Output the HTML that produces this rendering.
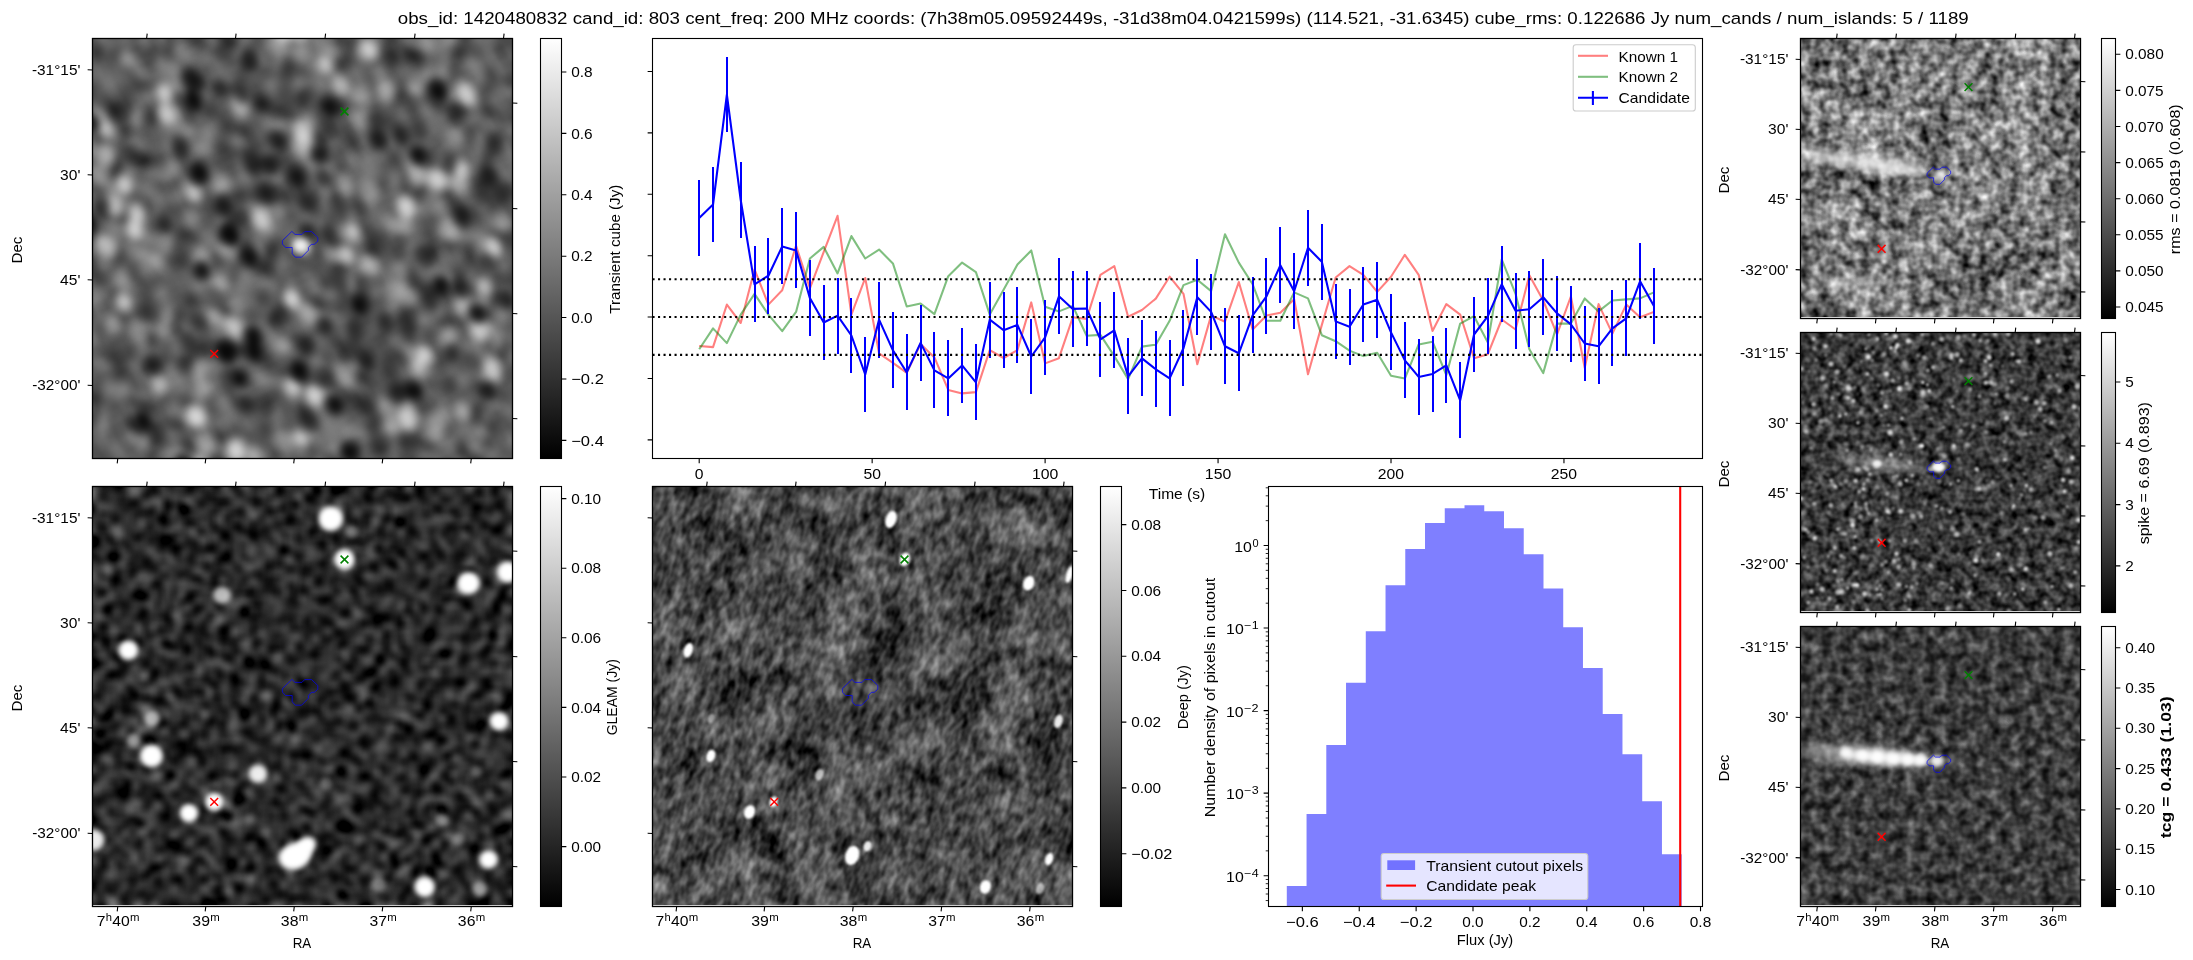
<!DOCTYPE html>
<html><head><meta charset="utf-8"><title>candidate</title>
<style>html,body{margin:0;padding:0;background:#fff;overflow:hidden}svg{display:block}text{font-family:"Liberation Sans",sans-serif;white-space:pre}</style>
</head><body>
<svg width="2193" height="960" viewBox="0 0 2193 960">
<defs>
<linearGradient id="cb" x1="0" y1="0" x2="0" y2="1"><stop offset="0" stop-color="#fff"/><stop offset="1" stop-color="#000"/></linearGradient>
<filter id="nA" x="0" y="0" width="1" height="1" color-interpolation-filters="sRGB"><feTurbulence type="fractalNoise" baseFrequency="0.20" numOctaves="1" seed="3"/><feColorMatrix type="matrix" values="8 0 0 0 -3.5 8 0 0 0 -3.5 8 0 0 0 -3.5 0 0 0 0 1"/><feGaussianBlur stdDeviation="6.8 5.6"/><feColorMatrix type="matrix" values="1.6 0 0 0 -0.4350 1.6 0 0 0 -0.4350 1.6 0 0 0 -0.4350 0 0 0 0 1"/></filter>
<filter id="nB" x="0" y="0" width="1" height="1" color-interpolation-filters="sRGB"><feTurbulence type="fractalNoise" baseFrequency="0.25" numOctaves="1" seed="5"/><feColorMatrix type="matrix" values="8 0 0 0 -3.5 8 0 0 0 -3.5 8 0 0 0 -3.5 0 0 0 0 1"/><feGaussianBlur stdDeviation="4.5"/><feColorMatrix type="matrix" values="1.7 0 0 0 -0.6850 1.7 0 0 0 -0.6850 1.7 0 0 0 -0.6850 0 0 0 0 1"/></filter>
<filter id="nR1" x="0" y="0" width="1" height="1" color-interpolation-filters="sRGB"><feTurbulence type="fractalNoise" baseFrequency="0.10" numOctaves="2" seed="3"/><feColorMatrix type="matrix" values="1.15 0 0 0 -0.1000 1.15 0 0 0 -0.1000 1.15 0 0 0 -0.1000 0 0 0 0 1" result="a"/><feTurbulence type="fractalNoise" baseFrequency="0.02" numOctaves="2" seed="44"/><feColorMatrix type="matrix" values="0.5 0 0 0 0.2500 0.5 0 0 0 0.2500 0.5 0 0 0 0.2500 0 0 0 0 1" result="b"/><feComposite in="a" in2="b" operator="arithmetic" k1="0" k2="1" k3="1" k4="-0.5"/><feColorMatrix type="matrix" values="1 0 0 0 0 0 1 0 0 0 0 0 1 0 0 0 0 0 0 1"/></filter>
<filter id="nC" x="0" y="0" width="1" height="1" color-interpolation-filters="sRGB"><feTurbulence type="fractalNoise" baseFrequency="0.075 0.13" numOctaves="2" seed="9"/><feColorMatrix type="matrix" values="0.66 0 0 0 -0.0450 0.66 0 0 0 -0.0450 0.66 0 0 0 -0.0450 0 0 0 0 1" result="a"/><feTurbulence type="fractalNoise" baseFrequency="0.022" numOctaves="2" seed="31"/><feColorMatrix type="matrix" values="0.55 0 0 0 0.2250 0.55 0 0 0 0.2250 0.55 0 0 0 0.2250 0 0 0 0 1" result="b"/><feComposite in="a" in2="b" operator="arithmetic" k1="0" k2="1" k3="1" k4="-0.5"/><feColorMatrix type="matrix" values="1 0 0 0 0 0 1 0 0 0 0 0 1 0 0 0 0 0 0 1"/></filter>
<filter id="nR2" x="0" y="0" width="1" height="1" filterUnits="objectBoundingBox" color-interpolation-filters="sRGB"><feTurbulence type="fractalNoise" baseFrequency="0.11" numOctaves="2" seed="21" result="n"/><feColorMatrix type="matrix" values="0.7 0 0 0 -0.1350 0.7 0 0 0 -0.1350 0.7 0 0 0 -0.1350 0 0 0 0 1"/></filter>
<filter id="nR3" x="0" y="0" width="1" height="1" filterUnits="objectBoundingBox" color-interpolation-filters="sRGB"><feTurbulence type="fractalNoise" baseFrequency="0.095" numOctaves="2" seed="17" result="n"/><feColorMatrix type="matrix" values="0.72 0 0 0 -0.0250 0.72 0 0 0 -0.0250 0.72 0 0 0 -0.0250 0 0 0 0 1"/><feComponentTransfer><feFuncR type="gamma" exponent="1.3"/><feFuncG type="gamma" exponent="1.3"/><feFuncB type="gamma" exponent="1.3"/></feComponentTransfer></filter>
<filter id="bl1" x="-1" y="-1" width="3" height="3"><feGaussianBlur stdDeviation="1"/></filter>
<filter id="bl1_5" x="-1" y="-1" width="3" height="3"><feGaussianBlur stdDeviation="1.5"/></filter>
<filter id="bl2" x="-1" y="-1" width="3" height="3"><feGaussianBlur stdDeviation="2"/></filter>
<filter id="bl2_5" x="-1" y="-1" width="3" height="3"><feGaussianBlur stdDeviation="2.5"/></filter>
<filter id="bl3" x="-1" y="-1" width="3" height="3"><feGaussianBlur stdDeviation="3"/></filter>
<filter id="bl4" x="-1" y="-1" width="3" height="3"><feGaussianBlur stdDeviation="4"/></filter>
<filter id="bl5" x="-1" y="-1" width="3" height="3"><feGaussianBlur stdDeviation="5"/></filter>
<filter id="bl6" x="-1" y="-1" width="3" height="3"><feGaussianBlur stdDeviation="6"/></filter>
</defs>
<rect x="0" y="0" width="2193" height="960" fill="#fff"/>
<clipPath id="clipA"><rect x="92.5" y="38.5" width="420" height="420"/></clipPath>
<clipPath id="clipB"><rect x="92.5" y="486.5" width="420" height="420"/></clipPath>
<clipPath id="clipC"><rect x="652.5" y="486.5" width="420" height="420"/></clipPath>
<clipPath id="clipR1"><rect x="1800.5" y="38.5" width="280" height="280"/></clipPath>
<clipPath id="clipR2"><rect x="1800.5" y="332.5" width="280" height="280"/></clipPath>
<clipPath id="clipR3"><rect x="1800.5" y="626.5" width="280" height="280"/></clipPath>
<g clip-path="url(#clipA)">
<rect x="92.5" y="38.5" width="420.0" height="420.0" fill="#555"/>
<g transform="rotate(62 302.5 248.5)"><rect x="-12.5" y="-66.5" width="630.0" height="630.0" filter="url(#nA)"/></g>
<g transform="rotate(-25 302.5 248.5)"><g fill="#fff" filter="url(#bl5)"><ellipse cx="119" cy="70" rx="9.3" ry="11.7" opacity="0.64"/><ellipse cx="141" cy="66" rx="8.0" ry="10.0" opacity="0.43"/><ellipse cx="134" cy="79" rx="9.5" ry="11.8" opacity="0.49"/><ellipse cx="92" cy="146" rx="7.9" ry="9.9" opacity="0.42"/><ellipse cx="175" cy="57" rx="8.0" ry="10.0" opacity="0.64"/><ellipse cx="165" cy="79" rx="9.2" ry="11.5" opacity="0.53"/><ellipse cx="149" cy="96" rx="9.2" ry="11.5" opacity="0.41"/><ellipse cx="198" cy="82" rx="9.1" ry="11.4" opacity="0.21"/><ellipse cx="168" cy="116" rx="8.3" ry="10.4" opacity="0.68"/><ellipse cx="149" cy="132" rx="8.3" ry="10.4" opacity="0.62"/><ellipse cx="140" cy="152" rx="8.1" ry="10.2" opacity="0.18"/><ellipse cx="125" cy="164" rx="10.0" ry="12.5" opacity="0.53"/><ellipse cx="94" cy="202" rx="9.4" ry="11.8" opacity="0.14"/><ellipse cx="256" cy="40" rx="10.0" ry="12.5" opacity="0.21"/><ellipse cx="243" cy="49" rx="7.5" ry="9.4" opacity="0.70"/><ellipse cx="236" cy="69" rx="9.3" ry="11.7" opacity="0.70"/><ellipse cx="193" cy="123" rx="9.2" ry="11.5" opacity="0.08"/><ellipse cx="167" cy="147" rx="8.1" ry="10.1" opacity="0.70"/><ellipse cx="158" cy="161" rx="8.3" ry="10.4" opacity="0.70"/><ellipse cx="148" cy="180" rx="8.7" ry="10.9" opacity="0.18"/><ellipse cx="125" cy="202" rx="7.9" ry="9.8" opacity="0.30"/><ellipse cx="118" cy="221" rx="7.8" ry="9.7" opacity="0.63"/><ellipse cx="99" cy="240" rx="8.0" ry="10.0" opacity="0.37"/><ellipse cx="288" cy="30" rx="8.6" ry="10.8" opacity="0.18"/><ellipse cx="245" cy="90" rx="8.4" ry="10.5" opacity="0.11"/><ellipse cx="215" cy="121" rx="8.9" ry="11.2" opacity="0.30"/><ellipse cx="179" cy="185" rx="9.5" ry="11.9" opacity="0.14"/><ellipse cx="164" cy="197" rx="7.6" ry="9.5" opacity="0.46"/><ellipse cx="118" cy="255" rx="9.9" ry="12.4" opacity="0.27"/><ellipse cx="264" cy="107" rx="8.0" ry="10.0" opacity="0.30"/><ellipse cx="249" cy="116" rx="8.5" ry="10.7" opacity="0.24"/><ellipse cx="227" cy="153" rx="7.6" ry="9.5" opacity="0.67"/><ellipse cx="214" cy="174" rx="8.1" ry="10.1" opacity="0.25"/><ellipse cx="154" cy="247" rx="8.9" ry="11.1" opacity="0.08"/><ellipse cx="114" cy="312" rx="8.2" ry="10.3" opacity="0.52"/><ellipse cx="339" cy="39" rx="9.0" ry="11.2" opacity="0.09"/><ellipse cx="306" cy="92" rx="8.5" ry="10.6" opacity="0.44"/><ellipse cx="254" cy="152" rx="9.9" ry="12.4" opacity="0.21"/><ellipse cx="210" cy="211" rx="7.7" ry="9.7" opacity="0.46"/><ellipse cx="133" cy="321" rx="9.9" ry="12.4" opacity="0.22"/><ellipse cx="89" cy="378" rx="9.3" ry="11.6" opacity="0.09"/><ellipse cx="376" cy="44" rx="9.2" ry="11.5" opacity="0.70"/><ellipse cx="363" cy="56" rx="9.4" ry="11.7" opacity="0.31"/><ellipse cx="236" cy="222" rx="9.7" ry="12.1" opacity="0.35"/><ellipse cx="214" cy="245" rx="7.9" ry="9.9" opacity="0.43"/><ellipse cx="195" cy="275" rx="8.3" ry="10.3" opacity="0.43"/><ellipse cx="157" cy="315" rx="8.5" ry="10.6" opacity="0.45"/><ellipse cx="151" cy="332" rx="8.6" ry="10.8" opacity="0.29"/><ellipse cx="135" cy="355" rx="9.4" ry="11.8" opacity="0.70"/><ellipse cx="391" cy="50" rx="8.9" ry="11.1" opacity="0.47"/><ellipse cx="385" cy="66" rx="9.6" ry="12.0" opacity="0.18"/><ellipse cx="334" cy="131" rx="7.6" ry="9.5" opacity="0.21"/><ellipse cx="277" cy="205" rx="9.9" ry="12.4" opacity="0.70"/><ellipse cx="236" cy="255" rx="8.0" ry="10.0" opacity="0.20"/><ellipse cx="221" cy="273" rx="8.8" ry="11.0" opacity="0.26"/><ellipse cx="207" cy="290" rx="9.3" ry="11.6" opacity="0.70"/><ellipse cx="167" cy="352" rx="7.5" ry="9.4" opacity="0.29"/><ellipse cx="154" cy="370" rx="9.1" ry="11.3" opacity="0.12"/><ellipse cx="132" cy="384" rx="10.0" ry="12.5" opacity="0.34"/><ellipse cx="118" cy="399" rx="7.9" ry="9.9" opacity="0.56"/><ellipse cx="105" cy="428" rx="7.8" ry="9.7" opacity="0.17"/><ellipse cx="445" cy="33" rx="9.9" ry="12.4" opacity="0.20"/><ellipse cx="411" cy="73" rx="9.8" ry="12.3" opacity="0.13"/><ellipse cx="401" cy="91" rx="8.2" ry="10.2" opacity="0.67"/><ellipse cx="352" cy="142" rx="9.7" ry="12.2" opacity="0.64"/><ellipse cx="347" cy="154" rx="9.6" ry="12.0" opacity="0.50"/><ellipse cx="157" cy="404" rx="9.3" ry="11.6" opacity="0.70"/><ellipse cx="124" cy="442" rx="8.6" ry="10.8" opacity="0.47"/><ellipse cx="113" cy="453" rx="8.3" ry="10.3" opacity="0.70"/><ellipse cx="442" cy="61" rx="8.5" ry="10.7" opacity="0.70"/><ellipse cx="408" cy="116" rx="9.2" ry="11.5" opacity="0.51"/><ellipse cx="306" cy="246" rx="8.4" ry="10.5" opacity="0.56"/><ellipse cx="272" cy="289" rx="8.1" ry="10.1" opacity="0.70"/><ellipse cx="244" cy="327" rx="7.6" ry="9.5" opacity="0.29"/><ellipse cx="211" cy="359" rx="9.3" ry="11.6" opacity="0.11"/><ellipse cx="171" cy="415" rx="7.7" ry="9.6" opacity="0.54"/><ellipse cx="148" cy="458" rx="9.9" ry="12.3" opacity="0.14"/><ellipse cx="491" cy="45" rx="8.1" ry="10.2" opacity="0.63"/><ellipse cx="461" cy="75" rx="7.9" ry="9.8" opacity="0.70"/><ellipse cx="447" cy="97" rx="9.0" ry="11.2" opacity="0.70"/><ellipse cx="422" cy="132" rx="9.7" ry="12.2" opacity="0.28"/><ellipse cx="410" cy="156" rx="9.9" ry="12.3" opacity="0.35"/><ellipse cx="369" cy="206" rx="8.8" ry="11.0" opacity="0.37"/><ellipse cx="325" cy="268" rx="7.7" ry="9.6" opacity="0.29"/><ellipse cx="280" cy="313" rx="9.4" ry="11.7" opacity="0.44"/><ellipse cx="236" cy="370" rx="8.1" ry="10.1" opacity="0.70"/><ellipse cx="204" cy="417" rx="9.3" ry="11.7" opacity="0.27"/><ellipse cx="172" cy="445" rx="7.6" ry="9.5" opacity="0.08"/><ellipse cx="158" cy="466" rx="8.6" ry="10.7" opacity="0.35"/><ellipse cx="517" cy="59" rx="8.0" ry="10.0" opacity="0.51"/><ellipse cx="501" cy="77" rx="9.5" ry="11.8" opacity="0.34"/><ellipse cx="444" cy="142" rx="9.3" ry="11.6" opacity="0.48"/><ellipse cx="399" cy="200" rx="9.4" ry="11.8" opacity="0.18"/><ellipse cx="387" cy="224" rx="9.9" ry="12.4" opacity="0.28"/><ellipse cx="355" cy="254" rx="7.6" ry="9.5" opacity="0.67"/><ellipse cx="340" cy="273" rx="8.7" ry="10.8" opacity="0.70"/><ellipse cx="251" cy="388" rx="9.0" ry="11.3" opacity="0.70"/><ellipse cx="221" cy="420" rx="7.8" ry="9.8" opacity="0.70"/><ellipse cx="505" cy="105" rx="8.8" ry="11.1" opacity="0.13"/><ellipse cx="478" cy="148" rx="9.8" ry="12.3" opacity="0.18"/><ellipse cx="396" cy="240" rx="8.1" ry="10.1" opacity="0.21"/><ellipse cx="356" cy="293" rx="9.7" ry="12.2" opacity="0.41"/><ellipse cx="288" cy="380" rx="9.8" ry="12.2" opacity="0.33"/><ellipse cx="252" cy="422" rx="9.6" ry="11.9" opacity="0.30"/><ellipse cx="246" cy="438" rx="9.5" ry="11.9" opacity="0.13"/><ellipse cx="224" cy="463" rx="10.0" ry="12.5" opacity="0.70"/><ellipse cx="517" cy="118" rx="8.3" ry="10.4" opacity="0.26"/><ellipse cx="507" cy="136" rx="8.7" ry="10.9" opacity="0.15"/><ellipse cx="474" cy="178" rx="7.9" ry="9.8" opacity="0.10"/><ellipse cx="437" cy="231" rx="8.9" ry="11.2" opacity="0.53"/><ellipse cx="414" cy="255" rx="9.3" ry="11.7" opacity="0.70"/><ellipse cx="404" cy="271" rx="8.6" ry="10.7" opacity="0.41"/><ellipse cx="379" cy="312" rx="9.6" ry="12.0" opacity="0.27"/><ellipse cx="366" cy="326" rx="9.2" ry="11.5" opacity="0.35"/><ellipse cx="516" cy="178" rx="9.8" ry="12.3" opacity="0.70"/><ellipse cx="485" cy="213" rx="9.6" ry="11.9" opacity="0.25"/><ellipse cx="454" cy="243" rx="9.6" ry="12.1" opacity="0.70"/><ellipse cx="438" cy="263" rx="9.8" ry="12.3" opacity="0.17"/><ellipse cx="378" cy="335" rx="9.3" ry="11.6" opacity="0.34"/><ellipse cx="311" cy="431" rx="9.7" ry="12.1" opacity="0.27"/><ellipse cx="480" cy="243" rx="8.0" ry="10.0" opacity="0.70"/><ellipse cx="472" cy="257" rx="9.2" ry="11.5" opacity="0.36"/><ellipse cx="445" cy="292" rx="9.9" ry="12.4" opacity="0.46"/><ellipse cx="426" cy="318" rx="7.5" ry="9.4" opacity="0.15"/><ellipse cx="368" cy="396" rx="8.5" ry="10.6" opacity="0.70"/><ellipse cx="358" cy="404" rx="7.8" ry="9.7" opacity="0.63"/><ellipse cx="325" cy="448" rx="10.0" ry="12.5" opacity="0.70"/><ellipse cx="456" cy="315" rx="8.3" ry="10.4" opacity="0.07"/><ellipse cx="423" cy="368" rx="7.5" ry="9.4" opacity="0.54"/><ellipse cx="398" cy="390" rx="7.9" ry="9.9" opacity="0.43"/><ellipse cx="373" cy="426" rx="8.4" ry="10.5" opacity="0.14"/><ellipse cx="350" cy="464" rx="9.9" ry="12.4" opacity="0.41"/><ellipse cx="495" cy="306" rx="9.8" ry="12.2" opacity="0.28"/><ellipse cx="476" cy="328" rx="8.9" ry="11.2" opacity="0.70"/><ellipse cx="451" cy="360" rx="8.0" ry="10.0" opacity="0.59"/><ellipse cx="428" cy="398" rx="9.6" ry="12.1" opacity="0.70"/><ellipse cx="396" cy="436" rx="9.4" ry="11.8" opacity="0.09"/><ellipse cx="378" cy="463" rx="8.1" ry="10.1" opacity="0.42"/><ellipse cx="521" cy="310" rx="9.9" ry="12.4" opacity="0.15"/><ellipse cx="515" cy="320" rx="9.6" ry="12.0" opacity="0.16"/><ellipse cx="449" cy="395" rx="9.1" ry="11.3" opacity="0.16"/><ellipse cx="436" cy="412" rx="8.2" ry="10.3" opacity="0.07"/><ellipse cx="423" cy="439" rx="10.0" ry="12.5" opacity="0.70"/><ellipse cx="470" cy="409" rx="8.7" ry="10.8" opacity="0.20"/><ellipse cx="516" cy="389" rx="8.1" ry="10.1" opacity="0.26"/><ellipse cx="492" cy="422" rx="8.1" ry="10.2" opacity="0.21"/><ellipse cx="466" cy="458" rx="9.0" ry="11.2" opacity="0.44"/><ellipse cx="501" cy="458" rx="7.8" ry="9.8" opacity="0.70"/></g><g fill="#000" filter="url(#bl5)"><ellipse cx="110" cy="33" rx="8.5" ry="10.6" opacity="0.58"/><ellipse cx="90" cy="52" rx="9.6" ry="12.0" opacity="0.12"/><ellipse cx="145" cy="29" rx="9.4" ry="11.7" opacity="0.20"/><ellipse cx="132" cy="50" rx="7.7" ry="9.7" opacity="0.56"/><ellipse cx="103" cy="91" rx="8.6" ry="10.8" opacity="0.39"/><ellipse cx="163" cy="44" rx="7.7" ry="9.7" opacity="0.90"/><ellipse cx="116" cy="101" rx="9.2" ry="11.4" opacity="0.90"/><ellipse cx="103" cy="121" rx="9.2" ry="11.5" opacity="0.34"/><ellipse cx="204" cy="31" rx="8.0" ry="10.0" opacity="0.21"/><ellipse cx="193" cy="48" rx="9.0" ry="11.2" opacity="0.41"/><ellipse cx="140" cy="124" rx="7.5" ry="9.4" opacity="0.53"/><ellipse cx="119" cy="133" rx="9.5" ry="11.9" opacity="0.90"/><ellipse cx="95" cy="173" rx="9.6" ry="12.0" opacity="0.35"/><ellipse cx="216" cy="63" rx="8.0" ry="10.0" opacity="0.18"/><ellipse cx="188" cy="92" rx="9.1" ry="11.4" opacity="0.46"/><ellipse cx="106" cy="190" rx="9.3" ry="11.6" opacity="0.35"/><ellipse cx="211" cy="88" rx="8.3" ry="10.4" opacity="0.11"/><ellipse cx="207" cy="113" rx="9.7" ry="12.1" opacity="0.24"/><ellipse cx="92" cy="263" rx="9.3" ry="11.7" opacity="0.27"/><ellipse cx="273" cy="49" rx="10.0" ry="12.5" opacity="0.69"/><ellipse cx="266" cy="68" rx="9.4" ry="11.7" opacity="0.90"/><ellipse cx="235" cy="103" rx="8.5" ry="10.6" opacity="0.38"/><ellipse cx="201" cy="139" rx="8.3" ry="10.4" opacity="0.10"/><ellipse cx="188" cy="166" rx="7.7" ry="9.7" opacity="0.47"/><ellipse cx="147" cy="216" rx="8.5" ry="10.6" opacity="0.12"/><ellipse cx="135" cy="239" rx="8.4" ry="10.5" opacity="0.49"/><ellipse cx="107" cy="271" rx="9.2" ry="11.5" opacity="0.18"/><ellipse cx="325" cy="30" rx="7.6" ry="9.5" opacity="0.59"/><ellipse cx="316" cy="41" rx="9.8" ry="12.3" opacity="0.31"/><ellipse cx="297" cy="69" rx="8.7" ry="10.9" opacity="0.22"/><ellipse cx="284" cy="86" rx="9.6" ry="12.0" opacity="0.11"/><ellipse cx="241" cy="136" rx="9.8" ry="12.2" opacity="0.90"/><ellipse cx="196" cy="193" rx="9.8" ry="12.2" opacity="0.32"/><ellipse cx="179" cy="217" rx="7.9" ry="9.8" opacity="0.13"/><ellipse cx="170" cy="237" rx="8.4" ry="10.6" opacity="0.12"/><ellipse cx="118" cy="291" rx="7.8" ry="9.8" opacity="0.63"/><ellipse cx="92" cy="327" rx="8.7" ry="10.9" opacity="0.27"/><ellipse cx="85" cy="338" rx="9.0" ry="11.2" opacity="0.90"/><ellipse cx="335" cy="55" rx="9.5" ry="11.9" opacity="0.68"/><ellipse cx="313" cy="83" rx="8.7" ry="10.8" opacity="0.62"/><ellipse cx="281" cy="113" rx="9.3" ry="11.7" opacity="0.23"/><ellipse cx="274" cy="131" rx="8.0" ry="10.0" opacity="0.18"/><ellipse cx="249" cy="176" rx="9.4" ry="11.8" opacity="0.70"/><ellipse cx="202" cy="226" rx="7.9" ry="9.9" opacity="0.87"/><ellipse cx="176" cy="270" rx="9.4" ry="11.7" opacity="0.32"/><ellipse cx="160" cy="287" rx="9.6" ry="12.0" opacity="0.54"/><ellipse cx="145" cy="306" rx="8.2" ry="10.3" opacity="0.35"/><ellipse cx="116" cy="336" rx="9.6" ry="12.0" opacity="0.10"/><ellipse cx="95" cy="354" rx="8.7" ry="10.9" opacity="0.43"/><ellipse cx="329" cy="99" rx="9.7" ry="12.2" opacity="0.16"/><ellipse cx="315" cy="114" rx="8.5" ry="10.6" opacity="0.16"/><ellipse cx="293" cy="147" rx="9.9" ry="12.4" opacity="0.60"/><ellipse cx="278" cy="172" rx="9.2" ry="11.5" opacity="0.17"/><ellipse cx="260" cy="192" rx="8.2" ry="10.2" opacity="0.23"/><ellipse cx="243" cy="206" rx="9.6" ry="12.0" opacity="0.89"/><ellipse cx="201" cy="255" rx="9.9" ry="12.4" opacity="0.17"/><ellipse cx="180" cy="294" rx="7.8" ry="9.7" opacity="0.28"/><ellipse cx="104" cy="393" rx="8.2" ry="10.2" opacity="0.68"/><ellipse cx="86" cy="414" rx="9.1" ry="11.3" opacity="0.49"/><ellipse cx="408" cy="28" rx="9.1" ry="11.3" opacity="0.09"/><ellipse cx="362" cy="87" rx="8.3" ry="10.4" opacity="0.38"/><ellipse cx="353" cy="105" rx="9.5" ry="11.9" opacity="0.40"/><ellipse cx="327" cy="140" rx="8.8" ry="11.0" opacity="0.69"/><ellipse cx="308" cy="159" rx="9.0" ry="11.2" opacity="0.66"/><ellipse cx="293" cy="183" rx="9.0" ry="11.2" opacity="0.70"/><ellipse cx="251" cy="234" rx="9.3" ry="11.6" opacity="0.87"/><ellipse cx="189" cy="309" rx="9.9" ry="12.4" opacity="0.87"/><ellipse cx="182" cy="336" rx="9.8" ry="12.2" opacity="0.34"/><ellipse cx="87" cy="438" rx="9.4" ry="11.8" opacity="0.62"/><ellipse cx="373" cy="119" rx="9.5" ry="11.9" opacity="0.28"/><ellipse cx="328" cy="182" rx="9.0" ry="11.2" opacity="0.83"/><ellipse cx="269" cy="248" rx="8.6" ry="10.7" opacity="0.24"/><ellipse cx="250" cy="277" rx="8.9" ry="11.1" opacity="0.33"/><ellipse cx="239" cy="285" rx="9.6" ry="12.0" opacity="0.15"/><ellipse cx="221" cy="307" rx="8.3" ry="10.3" opacity="0.90"/><ellipse cx="215" cy="322" rx="9.4" ry="11.8" opacity="0.90"/><ellipse cx="191" cy="340" rx="7.8" ry="9.7" opacity="0.90"/><ellipse cx="185" cy="365" rx="8.5" ry="10.6" opacity="0.66"/><ellipse cx="134" cy="421" rx="9.6" ry="12.0" opacity="0.60"/><ellipse cx="467" cy="47" rx="7.9" ry="9.9" opacity="0.15"/><ellipse cx="416" cy="104" rx="7.6" ry="9.5" opacity="0.27"/><ellipse cx="387" cy="132" rx="8.0" ry="10.0" opacity="0.85"/><ellipse cx="380" cy="152" rx="9.2" ry="11.4" opacity="0.43"/><ellipse cx="357" cy="170" rx="7.7" ry="9.7" opacity="0.67"/><ellipse cx="352" cy="192" rx="8.1" ry="10.1" opacity="0.45"/><ellipse cx="326" cy="206" rx="9.6" ry="12.0" opacity="0.64"/><ellipse cx="313" cy="236" rx="7.8" ry="9.8" opacity="0.63"/><ellipse cx="255" cy="301" rx="9.1" ry="11.4" opacity="0.43"/><ellipse cx="196" cy="374" rx="8.1" ry="10.1" opacity="0.37"/><ellipse cx="154" cy="437" rx="8.9" ry="11.1" opacity="0.30"/><ellipse cx="129" cy="468" rx="7.9" ry="9.9" opacity="0.23"/><ellipse cx="392" cy="165" rx="9.8" ry="12.2" opacity="0.13"/><ellipse cx="374" cy="183" rx="9.9" ry="12.4" opacity="0.12"/><ellipse cx="354" cy="230" rx="7.8" ry="9.7" opacity="0.41"/><ellipse cx="332" cy="246" rx="9.0" ry="11.2" opacity="0.59"/><ellipse cx="311" cy="282" rx="8.0" ry="9.9" opacity="0.09"/><ellipse cx="265" cy="337" rx="7.5" ry="9.4" opacity="0.51"/><ellipse cx="248" cy="358" rx="9.3" ry="11.6" opacity="0.90"/><ellipse cx="219" cy="398" rx="8.0" ry="10.0" opacity="0.27"/><ellipse cx="189" cy="432" rx="9.4" ry="11.8" opacity="0.26"/><ellipse cx="481" cy="87" rx="7.8" ry="9.8" opacity="0.40"/><ellipse cx="466" cy="112" rx="7.8" ry="9.7" opacity="0.66"/><ellipse cx="423" cy="164" rx="9.0" ry="11.3" opacity="0.59"/><ellipse cx="417" cy="181" rx="8.3" ry="10.3" opacity="0.71"/><ellipse cx="372" cy="238" rx="7.6" ry="9.5" opacity="0.38"/><ellipse cx="321" cy="291" rx="8.8" ry="11.0" opacity="0.51"/><ellipse cx="311" cy="313" rx="9.4" ry="11.8" opacity="0.15"/><ellipse cx="291" cy="328" rx="8.5" ry="10.6" opacity="0.72"/><ellipse cx="281" cy="349" rx="8.3" ry="10.4" opacity="0.21"/><ellipse cx="267" cy="373" rx="9.4" ry="11.8" opacity="0.37"/><ellipse cx="234" cy="407" rx="9.1" ry="11.4" opacity="0.61"/><ellipse cx="209" cy="446" rx="8.2" ry="10.3" opacity="0.16"/><ellipse cx="520" cy="92" rx="8.1" ry="10.2" opacity="0.64"/><ellipse cx="486" cy="129" rx="8.4" ry="10.5" opacity="0.27"/><ellipse cx="462" cy="164" rx="9.1" ry="11.4" opacity="0.23"/><ellipse cx="439" cy="185" rx="8.3" ry="10.4" opacity="0.63"/><ellipse cx="434" cy="203" rx="9.7" ry="12.1" opacity="0.20"/><ellipse cx="371" cy="277" rx="9.9" ry="12.4" opacity="0.40"/><ellipse cx="346" cy="308" rx="9.7" ry="12.1" opacity="0.42"/><ellipse cx="330" cy="324" rx="8.8" ry="11.0" opacity="0.90"/><ellipse cx="314" cy="346" rx="9.7" ry="12.1" opacity="0.59"/><ellipse cx="302" cy="362" rx="9.9" ry="12.4" opacity="0.37"/><ellipse cx="266" cy="404" rx="8.6" ry="10.7" opacity="0.87"/><ellipse cx="492" cy="164" rx="8.7" ry="10.8" opacity="0.90"/><ellipse cx="459" cy="190" rx="8.5" ry="10.6" opacity="0.47"/><ellipse cx="447" cy="213" rx="8.4" ry="10.5" opacity="0.90"/><ellipse cx="389" cy="289" rx="9.2" ry="11.4" opacity="0.29"/><ellipse cx="346" cy="349" rx="8.0" ry="9.9" opacity="0.58"/><ellipse cx="329" cy="367" rx="9.5" ry="11.9" opacity="0.19"/><ellipse cx="313" cy="378" rx="8.4" ry="10.5" opacity="0.70"/><ellipse cx="295" cy="419" rx="8.5" ry="10.6" opacity="0.53"/><ellipse cx="259" cy="453" rx="8.8" ry="11.1" opacity="0.86"/><ellipse cx="498" cy="189" rx="9.8" ry="12.2" opacity="0.34"/><ellipse cx="473" cy="231" rx="8.2" ry="10.2" opacity="0.42"/><ellipse cx="427" cy="280" rx="9.4" ry="11.8" opacity="0.12"/><ellipse cx="410" cy="307" rx="9.8" ry="12.3" opacity="0.54"/><ellipse cx="390" cy="324" rx="7.8" ry="9.7" opacity="0.33"/><ellipse cx="363" cy="361" rx="9.1" ry="11.4" opacity="0.47"/><ellipse cx="335" cy="393" rx="9.8" ry="12.2" opacity="0.41"/><ellipse cx="328" cy="419" rx="9.5" ry="11.9" opacity="0.70"/><ellipse cx="293" cy="456" rx="9.4" ry="11.7" opacity="0.30"/><ellipse cx="462" cy="286" rx="9.2" ry="11.5" opacity="0.76"/><ellipse cx="413" cy="340" rx="7.5" ry="9.4" opacity="0.90"/><ellipse cx="396" cy="350" rx="9.6" ry="12.0" opacity="0.60"/><ellipse cx="380" cy="378" rx="8.8" ry="11.0" opacity="0.14"/><ellipse cx="344" cy="425" rx="7.9" ry="9.8" opacity="0.90"/><ellipse cx="314" cy="467" rx="7.9" ry="9.9" opacity="0.55"/><ellipse cx="519" cy="235" rx="9.5" ry="11.9" opacity="0.34"/><ellipse cx="502" cy="262" rx="9.5" ry="11.9" opacity="0.61"/><ellipse cx="490" cy="271" rx="9.2" ry="11.5" opacity="0.31"/><ellipse cx="441" cy="332" rx="9.3" ry="11.6" opacity="0.28"/><ellipse cx="430" cy="352" rx="8.2" ry="10.2" opacity="0.63"/><ellipse cx="393" cy="408" rx="7.8" ry="9.7" opacity="0.64"/><ellipse cx="505" cy="284" rx="9.2" ry="11.5" opacity="0.60"/><ellipse cx="463" cy="340" rx="9.0" ry="11.3" opacity="0.39"/><ellipse cx="434" cy="382" rx="7.8" ry="9.7" opacity="0.84"/><ellipse cx="404" cy="421" rx="9.5" ry="11.9" opacity="0.12"/><ellipse cx="498" cy="336" rx="9.7" ry="12.2" opacity="0.31"/><ellipse cx="483" cy="364" rx="9.7" ry="12.1" opacity="0.28"/><ellipse cx="466" cy="383" rx="8.3" ry="10.4" opacity="0.69"/><ellipse cx="411" cy="456" rx="8.2" ry="10.3" opacity="0.68"/><ellipse cx="519" cy="352" rx="7.8" ry="9.7" opacity="0.90"/><ellipse cx="506" cy="379" rx="7.6" ry="9.5" opacity="0.31"/><ellipse cx="438" cy="447" rx="7.8" ry="9.7" opacity="0.29"/><ellipse cx="474" cy="449" rx="7.6" ry="9.5" opacity="0.56"/><ellipse cx="510" cy="438" rx="8.2" ry="10.3" opacity="0.21"/></g></g>
<ellipse cx="300.5" cy="245.5" rx="8.0" ry="7.0" fill="#fff" fill-opacity="0.85" filter="url(#bl3)"/>
</g>
<polygon points="291.90,231.40 295.00,234.40 301.90,234.40 304.70,231.60 311.60,231.60 317.80,237.50 317.80,241.25 314.40,244.25 311.25,244.40 308.40,247.50 308.40,250.30 301.60,257.20 295.30,257.20 292.20,253.75 292.20,247.50 285.60,247.50 282.40,244.10 282.40,240.60" fill="none" stroke="#0000ff" stroke-opacity="0.7" stroke-width="1"/>
<path d="M340.60 107.60L348.40 115.40M340.60 115.40L348.40 107.60" stroke="#008000" stroke-width="1.5" fill="none"/>
<path d="M210.30 350.00L218.10 357.80M210.30 357.80L218.10 350.00" stroke="#ff0000" stroke-width="1.5" fill="none"/>
<rect x="92.5" y="38.5" width="420.0" height="420.0" fill="none" stroke="#000" stroke-width="1.3"/>
<path d="M146.60 38.5l0.6 -4.86M235.50 38.5l0.6 -4.86M325.00 38.5l0.6 -4.86M414.50 38.5l0.6 -4.86M503.50 38.5l0.6 -4.86M117.80 458.5l-0.6 4.86M205.80 458.5l-0.6 4.86M294.30 458.5l-0.6 4.86M382.80 458.5l-0.6 4.86M471.30 458.5l-0.6 4.86M92.5 70.00l-4.86 -0.2M92.5 175.00l-4.86 -0.2M92.5 280.00l-4.86 -0.2M92.5 385.50l-4.86 -0.2M512.5 103.00l4.86 0.2M512.5 208.50l4.86 0.2M512.5 313.50l4.86 0.2M512.5 418.50l4.86 0.2" stroke="#000" stroke-width="1.1" fill="none"/>
<rect x="540.5" y="38.5" width="21.0" height="420.0" fill="url(#cb)" stroke="#000" stroke-width="1.1"/>
<path d="M561.5 72.00h4.86M561.5 133.40h4.86M561.5 194.80h4.86M561.5 256.20h4.86M561.5 317.55h4.86M561.5 379.00h4.86M561.5 440.40h4.86" stroke="#000" stroke-width="1.1" fill="none"/>
<g clip-path="url(#clipB)">
<rect x="92.5" y="486.5" width="420.0" height="420.0" fill="#555"/>
<g transform="rotate(0 302.5 696.5)"><rect x="92.5" y="486.5" width="420.0" height="420.0" filter="url(#nB)"/></g>
<ellipse cx="330.8" cy="518.5" rx="12.3" ry="12.3" fill="#fff" fill-opacity="1" filter="url(#bl2_5)"/>
<ellipse cx="344.6" cy="559.3" rx="10.3" ry="10.3" fill="#fff" fill-opacity="1" filter="url(#bl2_5)"/>
<ellipse cx="468.6" cy="583.3" rx="11.3" ry="11.3" fill="#fff" fill-opacity="1" filter="url(#bl2_5)"/>
<ellipse cx="507.9" cy="572.1" rx="10.8" ry="10.8" fill="#fff" fill-opacity="1" filter="url(#bl2_5)"/>
<ellipse cx="222.0" cy="595.0" rx="8.8" ry="8.8" fill="#fff" fill-opacity="0.7" filter="url(#bl2_5)"/>
<ellipse cx="128.6" cy="650.2" rx="9.8" ry="9.8" fill="#fff" fill-opacity="1" filter="url(#bl2_5)"/>
<ellipse cx="499.2" cy="721.2" rx="9.3" ry="9.3" fill="#fff" fill-opacity="1" filter="url(#bl2_5)"/>
<ellipse cx="152.1" cy="718.6" rx="7.8" ry="7.8" fill="#fff" fill-opacity="0.65" filter="url(#bl2_5)"/>
<ellipse cx="151.6" cy="755.9" rx="11.3" ry="11.3" fill="#fff" fill-opacity="1" filter="url(#bl2_5)"/>
<ellipse cx="133.7" cy="740.5" rx="6.8" ry="6.8" fill="#fff" fill-opacity="0.5" filter="url(#bl2_5)"/>
<ellipse cx="257.8" cy="773.7" rx="9.3" ry="9.3" fill="#fff" fill-opacity="0.9" filter="url(#bl2_5)"/>
<ellipse cx="214.4" cy="801.8" rx="9.3" ry="9.3" fill="#fff" fill-opacity="1" filter="url(#bl2_5)"/>
<ellipse cx="188.9" cy="813.0" rx="9.3" ry="9.3" fill="#fff" fill-opacity="1" filter="url(#bl2_5)"/>
<ellipse cx="488.5" cy="859.5" rx="9.3" ry="9.3" fill="#fff" fill-opacity="1" filter="url(#bl2_5)"/>
<ellipse cx="424.7" cy="887.0" rx="10.3" ry="10.3" fill="#fff" fill-opacity="1" filter="url(#bl2_5)"/>
<ellipse cx="378.8" cy="884.5" rx="7.3" ry="7.3" fill="#fff" fill-opacity="0.45" filter="url(#bl2_5)"/>
<ellipse cx="479.8" cy="888.6" rx="7.3" ry="7.3" fill="#fff" fill-opacity="0.5" filter="url(#bl2_5)"/>
<ellipse cx="93.5" cy="840.0" rx="10.8" ry="10.8" fill="#fff" fill-opacity="0.9" filter="url(#bl2_5)"/>
<ellipse cx="441.6" cy="819.7" rx="6.3" ry="6.3" fill="#fff" fill-opacity="0.4" filter="url(#bl2_5)"/>
<ellipse cx="352.0" cy="532.0" rx="6.3" ry="6.3" fill="#fff" fill-opacity="0.35" filter="url(#bl2_5)"/>
<ellipse cx="326.7" cy="784.0" rx="6.3" ry="6.3" fill="#fff" fill-opacity="0.35" filter="url(#bl2_5)"/>
<ellipse cx="459.0" cy="839.0" rx="6.3" ry="6.3" fill="#fff" fill-opacity="0.4" filter="url(#bl2_5)"/>
<ellipse cx="476.0" cy="772.0" rx="5.8" ry="5.8" fill="#fff" fill-opacity="0.3" filter="url(#bl2_5)"/>
<ellipse cx="295.0" cy="856.0" rx="16.5" ry="13.0" fill="#fff" fill-opacity="1" filter="url(#bl2_5)" transform="rotate(-20 295.0 856.0)"/>
<ellipse cx="306.0" cy="846.0" rx="10.5" ry="8.5" fill="#fff" fill-opacity="1" filter="url(#bl2_5)" transform="rotate(-35 306.0 846.0)"/>
<ellipse cx="240.0" cy="822.0" rx="16.0" ry="5.0" fill="#fff" fill-opacity="0.25" filter="url(#bl3)" transform="rotate(-15 240.0 822.0)"/>
<rect x="92.5" y="905.1" width="420.0" height="1.4" fill="#fff"/>
</g>
<polygon points="291.90,679.40 295.00,682.40 301.90,682.40 304.70,679.60 311.60,679.60 317.80,685.50 317.80,689.25 314.40,692.25 311.25,692.40 308.40,695.50 308.40,698.30 301.60,705.20 295.30,705.20 292.20,701.75 292.20,695.50 285.60,695.50 282.40,692.10 282.40,688.60" fill="none" stroke="#0000ff" stroke-opacity="0.7" stroke-width="1"/>
<path d="M340.60 555.60L348.40 563.40M340.60 563.40L348.40 555.60" stroke="#008000" stroke-width="1.5" fill="none"/>
<path d="M210.30 798.00L218.10 805.80M210.30 805.80L218.10 798.00" stroke="#ff0000" stroke-width="1.5" fill="none"/>
<rect x="92.5" y="486.5" width="420.0" height="420.0" fill="none" stroke="#000" stroke-width="1.3"/>
<path d="M146.60 486.5l0.6 -4.86M235.50 486.5l0.6 -4.86M325.00 486.5l0.6 -4.86M414.50 486.5l0.6 -4.86M503.50 486.5l0.6 -4.86M117.80 906.5l-0.6 4.86M205.80 906.5l-0.6 4.86M294.30 906.5l-0.6 4.86M382.80 906.5l-0.6 4.86M471.30 906.5l-0.6 4.86M92.5 518.00l-4.86 -0.2M92.5 623.00l-4.86 -0.2M92.5 728.00l-4.86 -0.2M92.5 833.50l-4.86 -0.2M512.5 551.00l4.86 0.2M512.5 656.50l4.86 0.2M512.5 761.50l4.86 0.2M512.5 866.50l4.86 0.2" stroke="#000" stroke-width="1.1" fill="none"/>
<rect x="540.5" y="486.5" width="21.0" height="420.0" fill="url(#cb)" stroke="#000" stroke-width="1.1"/>
<path d="M561.5 498.60h4.86M561.5 568.20h4.86M561.5 637.80h4.86M561.5 707.40h4.86M561.5 777.00h4.86M561.5 846.60h4.86" stroke="#000" stroke-width="1.1" fill="none"/>
<g clip-path="url(#clipC)">
<rect x="652.5" y="486.5" width="420.0" height="420.0" fill="#555"/>
<g transform="rotate(-72 862.5 696.5)"><rect x="547.5" y="381.5" width="630.0" height="630.0" filter="url(#nC)"/></g>
<ellipse cx="891.0" cy="519.5" rx="5.5" ry="9.0" fill="#fff" fill-opacity="1" filter="url(#bl1)" transform="rotate(18 891.0 519.5)"/>
<ellipse cx="904.8" cy="559.3" rx="5.0" ry="7.0" fill="#fff" fill-opacity="1" filter="url(#bl1)" transform="rotate(18 904.8 559.3)"/>
<ellipse cx="1028.8" cy="583.3" rx="5.5" ry="7.5" fill="#fff" fill-opacity="1" filter="url(#bl1)" transform="rotate(18 1028.8 583.3)"/>
<ellipse cx="1069.6" cy="574.6" rx="3.5" ry="9.0" fill="#fff" fill-opacity="1" filter="url(#bl1)" transform="rotate(18 1069.6 574.6)"/>
<ellipse cx="688.3" cy="650.2" rx="4.5" ry="7.5" fill="#fff" fill-opacity="1" filter="url(#bl1)" transform="rotate(18 688.3 650.2)"/>
<ellipse cx="1058.4" cy="721.2" rx="4.0" ry="7.0" fill="#fff" fill-opacity="0.9" filter="url(#bl1)" transform="rotate(18 1058.4 721.2)"/>
<ellipse cx="710.8" cy="755.9" rx="4.5" ry="6.5" fill="#fff" fill-opacity="1" filter="url(#bl1)" transform="rotate(18 710.8 755.9)"/>
<ellipse cx="711.3" cy="718.6" rx="3.5" ry="5.0" fill="#fff" fill-opacity="0.5" filter="url(#bl1)" transform="rotate(18 711.3 718.6)"/>
<ellipse cx="819.5" cy="774.8" rx="4.0" ry="6.0" fill="#fff" fill-opacity="0.65" filter="url(#bl1)" transform="rotate(18 819.5 774.8)"/>
<ellipse cx="773.6" cy="801.8" rx="4.0" ry="5.5" fill="#fff" fill-opacity="1" filter="url(#bl1)" transform="rotate(18 773.6 801.8)"/>
<ellipse cx="749.6" cy="812.0" rx="5.5" ry="7.0" fill="#fff" fill-opacity="1" filter="url(#bl1)" transform="rotate(18 749.6 812.0)"/>
<ellipse cx="852.2" cy="855.4" rx="7.0" ry="10.0" fill="#fff" fill-opacity="1" filter="url(#bl1)" transform="rotate(18 852.2 855.4)"/>
<ellipse cx="867.5" cy="846.2" rx="4.0" ry="5.5" fill="#fff" fill-opacity="0.9" filter="url(#bl1)" transform="rotate(18 867.5 846.2)"/>
<ellipse cx="1049.2" cy="859.0" rx="4.0" ry="6.5" fill="#fff" fill-opacity="1" filter="url(#bl1)" transform="rotate(18 1049.2 859.0)"/>
<ellipse cx="985.4" cy="887.0" rx="5.5" ry="7.0" fill="#fff" fill-opacity="1" filter="url(#bl1)" transform="rotate(18 985.4 887.0)"/>
<ellipse cx="1040.0" cy="888.6" rx="4.0" ry="6.0" fill="#fff" fill-opacity="0.6" filter="url(#bl1)" transform="rotate(18 1040.0 888.6)"/>
<ellipse cx="914.0" cy="533.8" rx="7.0" ry="4.0" fill="#fff" fill-opacity="0.3" filter="url(#bl2)"/>
<rect x="652.5" y="905.1" width="420.0" height="1.4" fill="#fff"/>
</g>
<polygon points="851.90,679.40 855.00,682.40 861.90,682.40 864.70,679.60 871.60,679.60 877.80,685.50 877.80,689.25 874.40,692.25 871.25,692.40 868.40,695.50 868.40,698.30 861.60,705.20 855.30,705.20 852.20,701.75 852.20,695.50 845.60,695.50 842.40,692.10 842.40,688.60" fill="none" stroke="#0000ff" stroke-opacity="0.7" stroke-width="1"/>
<path d="M900.60 555.60L908.40 563.40M900.60 563.40L908.40 555.60" stroke="#008000" stroke-width="1.5" fill="none"/>
<path d="M770.30 798.00L778.10 805.80M770.30 805.80L778.10 798.00" stroke="#ff0000" stroke-width="1.5" fill="none"/>
<rect x="652.5" y="486.5" width="420.0" height="420.0" fill="none" stroke="#000" stroke-width="1.3"/>
<path d="M706.60 486.5l0.6 -4.86M795.50 486.5l0.6 -4.86M885.00 486.5l0.6 -4.86M974.50 486.5l0.6 -4.86M1063.50 486.5l0.6 -4.86M676.70 906.5l-0.6 4.86M764.70 906.5l-0.6 4.86M853.20 906.5l-0.6 4.86M941.70 906.5l-0.6 4.86M1030.20 906.5l-0.6 4.86M652.5 518.00l-4.86 -0.2M652.5 623.00l-4.86 -0.2M652.5 728.00l-4.86 -0.2M652.5 833.50l-4.86 -0.2M1072.5 551.00l4.86 0.2M1072.5 656.50l4.86 0.2M1072.5 761.50l4.86 0.2M1072.5 866.50l4.86 0.2" stroke="#000" stroke-width="1.1" fill="none"/>
<rect x="1100.5" y="486.5" width="21.0" height="420.0" fill="url(#cb)" stroke="#000" stroke-width="1.1"/>
<path d="M1121.5 524.60h4.86M1121.5 590.50h4.86M1121.5 656.30h4.86M1121.5 722.10h4.86M1121.5 787.90h4.86M1121.5 853.70h4.86" stroke="#000" stroke-width="1.1" fill="none"/>
<g clip-path="url(#clipR1)">
<rect x="1800.5" y="38.5" width="280.0" height="280.0" fill="#555"/>
<g transform="rotate(0 1940.5 178.5)"><rect x="1800.5" y="38.5" width="280.0" height="280.0" filter="url(#nR1)"/></g>
<ellipse cx="1860.0" cy="161.0" rx="66.0" ry="9.0" fill="#fff" fill-opacity="0.55" filter="url(#bl4)" transform="rotate(6 1860.0 161.0)"/>
<ellipse cx="1888.0" cy="167.0" rx="36.0" ry="5.0" fill="#fff" fill-opacity="0.7" filter="url(#bl3)" transform="rotate(8 1888.0 167.0)"/>
<ellipse cx="1835.0" cy="159.0" rx="22.0" ry="4.0" fill="#fff" fill-opacity="0.45" filter="url(#bl3)" transform="rotate(4 1835.0 159.0)"/>
<ellipse cx="1845.0" cy="282.0" rx="35.0" ry="9.0" fill="#fff" fill-opacity="0.3" filter="url(#bl6)"/>
<ellipse cx="1939.5" cy="176.0" rx="5.0" ry="5.0" fill="#fff" fill-opacity="0.6" filter="url(#bl2)"/>
<rect x="1800.5" y="317.05" width="280.0" height="1.45" fill="#fff"/>
</g>
<polygon points="1933.43,167.10 1935.50,169.10 1940.10,169.10 1941.97,167.23 1946.57,167.23 1950.70,171.17 1950.70,173.67 1948.43,175.67 1946.33,175.77 1944.43,177.83 1944.43,179.70 1939.90,184.30 1935.70,184.30 1933.63,182.00 1933.63,177.83 1929.23,177.83 1927.10,175.57 1927.10,173.23" fill="none" stroke="#0000ff" stroke-opacity="0.7" stroke-width="1"/>
<path d="M1964.60 83.27L1972.40 91.07M1964.60 91.07L1972.40 83.27" stroke="#008000" stroke-width="1.5" fill="none"/>
<path d="M1877.73 244.87L1885.53 252.67M1877.73 252.67L1885.53 244.87" stroke="#ff0000" stroke-width="1.5" fill="none"/>
<rect x="1800.5" y="38.5" width="280.0" height="280.0" fill="none" stroke="#000" stroke-width="1.3"/>
<path d="M1836.57 38.5l0.6 -4.86M1895.83 38.5l0.6 -4.86M1955.50 38.5l0.6 -4.86M2015.17 38.5l0.6 -4.86M2074.50 38.5l0.6 -4.86M1817.37 318.5l-0.6 4.86M1876.03 318.5l-0.6 4.86M1935.03 318.5l-0.6 4.86M1994.03 318.5l-0.6 4.86M2053.03 318.5l-0.6 4.86M1800.5 59.50l-4.86 -0.2M1800.5 129.50l-4.86 -0.2M1800.5 199.50l-4.86 -0.2M1800.5 269.83l-4.86 -0.2M2080.5 81.50l4.86 0.2M2080.5 151.83l4.86 0.2M2080.5 221.83l4.86 0.2M2080.5 291.83l4.86 0.2" stroke="#000" stroke-width="1.1" fill="none"/>
<rect x="2101.5" y="38.5" width="14.0" height="280.0" fill="url(#cb)" stroke="#000" stroke-width="1.1"/>
<path d="M2115.5 54.30h4.86M2115.5 90.40h4.86M2115.5 126.50h4.86M2115.5 162.60h4.86M2115.5 198.70h4.86M2115.5 234.80h4.86M2115.5 270.90h4.86M2115.5 307.00h4.86" stroke="#000" stroke-width="1.1" fill="none"/>
<g clip-path="url(#clipR2)">
<rect x="1800.5" y="332.5" width="280.0" height="280.0" fill="#555"/>
<g transform="rotate(0 1940.5 472.5)"><rect x="1800.5" y="332.5" width="280.0" height="280.0" filter="url(#nR2)"/></g>
<g fill="#fff" filter="url(#bl1)"><circle cx="1840.4" cy="335.5" r="1.7" opacity="0.57"/><circle cx="1985.7" cy="373.2" r="1.5" opacity="0.71"/><circle cx="1817.0" cy="561.8" r="2.3" opacity="0.19"/><circle cx="1913.8" cy="568.4" r="1.4" opacity="0.72"/><circle cx="2065.6" cy="364.0" r="1.5" opacity="0.18"/><circle cx="1974.5" cy="378.3" r="1.4" opacity="0.15"/><circle cx="2028.9" cy="444.6" r="2.1" opacity="0.26"/><circle cx="1908.2" cy="341.0" r="2.7" opacity="0.82"/><circle cx="1986.3" cy="432.3" r="2.3" opacity="0.42"/><circle cx="1832.4" cy="398.3" r="2.0" opacity="0.57"/><circle cx="1920.9" cy="477.8" r="1.9" opacity="0.21"/><circle cx="2016.6" cy="361.2" r="1.5" opacity="0.44"/><circle cx="1810.8" cy="409.9" r="2.2" opacity="0.14"/><circle cx="1929.1" cy="391.0" r="2.0" opacity="0.79"/><circle cx="1935.2" cy="600.1" r="2.6" opacity="0.20"/><circle cx="1853.5" cy="542.1" r="1.3" opacity="0.17"/><circle cx="2016.3" cy="428.2" r="1.3" opacity="0.14"/><circle cx="1941.5" cy="339.2" r="2.4" opacity="0.60"/><circle cx="1979.5" cy="396.8" r="2.0" opacity="0.37"/><circle cx="1845.9" cy="414.1" r="1.7" opacity="0.77"/><circle cx="1860.4" cy="412.3" r="2.3" opacity="0.44"/><circle cx="1837.4" cy="580.7" r="1.6" opacity="0.24"/><circle cx="2021.5" cy="494.9" r="1.8" opacity="0.48"/><circle cx="1958.2" cy="337.3" r="2.6" opacity="0.56"/><circle cx="2021.5" cy="438.8" r="1.8" opacity="0.18"/><circle cx="1974.7" cy="367.4" r="2.3" opacity="0.22"/><circle cx="1869.3" cy="446.4" r="2.3" opacity="0.15"/><circle cx="1825.9" cy="420.0" r="2.4" opacity="0.41"/><circle cx="2062.2" cy="434.9" r="2.0" opacity="0.24"/><circle cx="1850.7" cy="519.4" r="1.6" opacity="0.19"/><circle cx="2064.8" cy="334.7" r="1.7" opacity="0.16"/><circle cx="1940.8" cy="528.0" r="2.0" opacity="0.36"/><circle cx="2036.5" cy="402.5" r="2.5" opacity="0.60"/><circle cx="1864.2" cy="483.1" r="1.9" opacity="0.42"/><circle cx="1890.7" cy="472.5" r="1.7" opacity="0.15"/><circle cx="1863.7" cy="484.9" r="1.4" opacity="0.57"/><circle cx="1880.5" cy="594.6" r="1.8" opacity="0.66"/><circle cx="2051.7" cy="422.4" r="2.2" opacity="0.62"/><circle cx="1970.9" cy="552.1" r="2.2" opacity="0.17"/><circle cx="1914.4" cy="438.8" r="1.9" opacity="0.57"/><circle cx="1848.1" cy="389.9" r="2.7" opacity="0.29"/><circle cx="1815.3" cy="566.4" r="2.4" opacity="0.20"/><circle cx="2006.2" cy="418.0" r="2.5" opacity="0.60"/><circle cx="1859.6" cy="578.8" r="1.7" opacity="0.14"/><circle cx="1848.4" cy="378.2" r="1.7" opacity="0.15"/><circle cx="1852.0" cy="419.8" r="2.1" opacity="0.14"/><circle cx="1992.3" cy="482.6" r="2.0" opacity="0.40"/><circle cx="2024.7" cy="474.0" r="2.0" opacity="0.38"/><circle cx="1909.3" cy="448.7" r="2.3" opacity="0.17"/><circle cx="1920.0" cy="446.1" r="2.4" opacity="0.61"/><circle cx="1836.7" cy="350.0" r="1.4" opacity="0.14"/><circle cx="1802.9" cy="402.4" r="2.3" opacity="0.36"/><circle cx="2066.4" cy="340.4" r="2.6" opacity="0.26"/><circle cx="1858.3" cy="544.4" r="2.1" opacity="0.19"/><circle cx="1868.2" cy="356.9" r="2.6" opacity="0.84"/><circle cx="2014.8" cy="593.9" r="1.7" opacity="0.73"/><circle cx="1968.5" cy="519.8" r="1.6" opacity="0.27"/><circle cx="2077.6" cy="468.3" r="2.2" opacity="0.30"/><circle cx="1901.8" cy="397.0" r="2.2" opacity="0.15"/><circle cx="1871.1" cy="449.7" r="2.3" opacity="0.38"/><circle cx="1848.9" cy="486.0" r="2.1" opacity="0.21"/><circle cx="1893.0" cy="473.2" r="1.5" opacity="0.22"/><circle cx="1857.9" cy="422.8" r="1.8" opacity="0.76"/><circle cx="1883.6" cy="425.6" r="1.9" opacity="0.29"/><circle cx="1981.8" cy="353.1" r="1.4" opacity="0.17"/><circle cx="1848.5" cy="455.2" r="2.5" opacity="0.16"/><circle cx="1855.4" cy="511.2" r="2.1" opacity="0.26"/><circle cx="1910.2" cy="462.8" r="2.3" opacity="0.50"/><circle cx="1867.5" cy="479.8" r="2.0" opacity="0.41"/><circle cx="1973.0" cy="532.5" r="1.7" opacity="0.14"/><circle cx="2049.8" cy="553.7" r="2.7" opacity="0.70"/><circle cx="1842.9" cy="566.8" r="1.7" opacity="0.17"/><circle cx="1916.4" cy="347.0" r="1.5" opacity="0.18"/><circle cx="1844.9" cy="366.6" r="1.8" opacity="0.27"/><circle cx="1968.9" cy="593.7" r="1.6" opacity="0.64"/><circle cx="1830.9" cy="505.4" r="2.5" opacity="0.61"/><circle cx="1980.8" cy="454.6" r="2.0" opacity="0.20"/><circle cx="2051.5" cy="486.4" r="2.5" opacity="0.21"/><circle cx="1862.1" cy="446.6" r="2.3" opacity="0.29"/><circle cx="1982.5" cy="434.2" r="1.4" opacity="0.14"/><circle cx="1812.4" cy="605.7" r="2.1" opacity="0.15"/><circle cx="2071.0" cy="481.7" r="2.5" opacity="0.64"/><circle cx="2074.3" cy="395.0" r="2.2" opacity="0.17"/><circle cx="2031.2" cy="542.8" r="2.4" opacity="0.24"/><circle cx="1847.9" cy="338.3" r="1.8" opacity="0.14"/><circle cx="1937.7" cy="448.7" r="2.1" opacity="0.30"/><circle cx="1884.1" cy="576.7" r="2.6" opacity="0.14"/><circle cx="1889.6" cy="593.4" r="2.3" opacity="0.16"/><circle cx="1834.6" cy="601.2" r="1.5" opacity="0.24"/><circle cx="1857.6" cy="393.9" r="1.4" opacity="0.26"/><circle cx="1990.3" cy="497.8" r="2.0" opacity="0.24"/><circle cx="1843.7" cy="389.0" r="1.5" opacity="0.37"/><circle cx="1892.3" cy="609.1" r="2.0" opacity="0.24"/><circle cx="1840.8" cy="484.1" r="1.8" opacity="0.34"/><circle cx="1848.2" cy="397.8" r="2.0" opacity="0.68"/><circle cx="1842.1" cy="606.3" r="2.6" opacity="0.15"/><circle cx="1877.6" cy="486.2" r="2.5" opacity="0.17"/><circle cx="1822.6" cy="378.1" r="2.6" opacity="0.67"/><circle cx="1988.0" cy="451.9" r="2.5" opacity="0.14"/><circle cx="1856.5" cy="454.3" r="1.6" opacity="0.14"/><circle cx="1839.9" cy="416.2" r="1.9" opacity="0.73"/><circle cx="2035.7" cy="482.6" r="1.5" opacity="0.18"/><circle cx="2022.8" cy="589.0" r="1.8" opacity="0.79"/><circle cx="1842.8" cy="354.9" r="2.5" opacity="0.17"/><circle cx="2002.4" cy="365.8" r="1.5" opacity="0.35"/><circle cx="2008.4" cy="578.5" r="2.7" opacity="0.22"/><circle cx="1830.1" cy="409.1" r="2.5" opacity="0.17"/><circle cx="2015.6" cy="466.0" r="1.4" opacity="0.14"/><circle cx="1864.5" cy="593.7" r="2.5" opacity="0.72"/><circle cx="1910.5" cy="527.4" r="2.3" opacity="0.14"/><circle cx="2049.3" cy="376.5" r="2.3" opacity="0.49"/><circle cx="2031.9" cy="419.9" r="2.3" opacity="0.14"/><circle cx="2045.1" cy="420.8" r="1.7" opacity="0.46"/><circle cx="1849.2" cy="370.4" r="1.5" opacity="0.37"/><circle cx="2077.4" cy="334.1" r="1.8" opacity="0.18"/><circle cx="1896.7" cy="362.7" r="1.7" opacity="0.14"/><circle cx="1838.3" cy="592.3" r="2.7" opacity="0.58"/><circle cx="2007.3" cy="396.0" r="2.7" opacity="0.43"/><circle cx="1950.4" cy="357.1" r="2.7" opacity="0.37"/><circle cx="1825.9" cy="355.2" r="1.8" opacity="0.26"/><circle cx="1838.9" cy="382.4" r="1.9" opacity="0.15"/><circle cx="1842.7" cy="457.1" r="1.4" opacity="0.26"/><circle cx="1814.8" cy="538.1" r="2.3" opacity="0.78"/><circle cx="1846.9" cy="450.6" r="1.4" opacity="0.64"/><circle cx="1811.9" cy="607.8" r="2.7" opacity="0.14"/><circle cx="1962.9" cy="514.0" r="2.5" opacity="0.33"/><circle cx="1953.8" cy="445.9" r="2.1" opacity="0.76"/><circle cx="1865.9" cy="467.3" r="2.3" opacity="0.14"/><circle cx="1841.5" cy="383.7" r="1.5" opacity="0.32"/><circle cx="2047.4" cy="452.2" r="2.1" opacity="0.23"/><circle cx="1922.8" cy="382.4" r="1.8" opacity="0.83"/><circle cx="1829.5" cy="598.2" r="1.7" opacity="0.46"/><circle cx="1958.1" cy="459.1" r="1.9" opacity="0.40"/><circle cx="1995.1" cy="334.1" r="2.3" opacity="0.65"/><circle cx="1950.6" cy="484.1" r="1.6" opacity="0.69"/><circle cx="1817.9" cy="584.7" r="1.8" opacity="0.37"/><circle cx="1808.9" cy="457.7" r="1.8" opacity="0.15"/><circle cx="1817.2" cy="598.0" r="2.2" opacity="0.38"/><circle cx="1878.9" cy="488.7" r="1.6" opacity="0.16"/><circle cx="2059.2" cy="390.7" r="1.9" opacity="0.53"/><circle cx="1951.9" cy="358.2" r="1.9" opacity="0.51"/><circle cx="1905.8" cy="366.7" r="2.5" opacity="0.27"/><circle cx="1987.7" cy="348.3" r="1.7" opacity="0.27"/><circle cx="1833.8" cy="597.2" r="1.3" opacity="0.16"/><circle cx="1824.8" cy="604.3" r="2.0" opacity="0.39"/><circle cx="1886.4" cy="374.2" r="2.6" opacity="0.68"/><circle cx="1925.4" cy="501.0" r="2.3" opacity="0.14"/><circle cx="2011.6" cy="381.5" r="2.2" opacity="0.62"/><circle cx="1905.2" cy="490.2" r="2.7" opacity="0.14"/><circle cx="1911.9" cy="587.4" r="1.9" opacity="0.52"/><circle cx="1990.7" cy="365.3" r="1.5" opacity="0.60"/><circle cx="1911.2" cy="416.7" r="2.7" opacity="0.15"/><circle cx="1834.8" cy="571.0" r="2.1" opacity="0.79"/><circle cx="1875.6" cy="467.1" r="2.2" opacity="0.19"/><circle cx="1917.1" cy="583.4" r="1.5" opacity="0.43"/><circle cx="1874.7" cy="413.6" r="1.7" opacity="0.15"/><circle cx="1842.0" cy="579.5" r="1.6" opacity="0.49"/><circle cx="1855.8" cy="506.5" r="2.1" opacity="0.50"/><circle cx="1941.9" cy="508.3" r="1.9" opacity="0.54"/><circle cx="1905.0" cy="540.8" r="2.4" opacity="0.49"/><circle cx="1885.9" cy="561.9" r="1.9" opacity="0.47"/><circle cx="1916.5" cy="493.8" r="1.9" opacity="0.18"/><circle cx="1946.9" cy="462.5" r="2.2" opacity="0.24"/><circle cx="1896.8" cy="476.1" r="2.2" opacity="0.54"/><circle cx="1974.0" cy="421.7" r="2.1" opacity="0.16"/><circle cx="2052.1" cy="533.2" r="1.9" opacity="0.14"/><circle cx="1863.4" cy="488.8" r="1.9" opacity="0.80"/><circle cx="1872.2" cy="361.4" r="1.8" opacity="0.17"/><circle cx="1924.9" cy="503.8" r="1.4" opacity="0.35"/><circle cx="1984.6" cy="489.4" r="2.5" opacity="0.23"/><circle cx="1952.3" cy="580.4" r="2.0" opacity="0.23"/><circle cx="1979.3" cy="395.6" r="1.6" opacity="0.32"/><circle cx="1834.5" cy="545.7" r="1.9" opacity="0.19"/><circle cx="1809.3" cy="583.4" r="1.3" opacity="0.14"/><circle cx="1806.9" cy="609.7" r="1.9" opacity="0.33"/><circle cx="1943.4" cy="427.4" r="1.7" opacity="0.41"/><circle cx="1808.9" cy="429.0" r="1.9" opacity="0.14"/><circle cx="1929.1" cy="592.3" r="2.3" opacity="0.21"/><circle cx="1975.8" cy="560.3" r="2.6" opacity="0.84"/><circle cx="2052.0" cy="586.6" r="1.8" opacity="0.69"/><circle cx="1803.8" cy="489.1" r="2.0" opacity="0.16"/><circle cx="1970.6" cy="376.7" r="2.4" opacity="0.33"/><circle cx="1837.8" cy="608.2" r="1.9" opacity="0.46"/><circle cx="1827.4" cy="474.8" r="2.1" opacity="0.25"/><circle cx="1976.7" cy="556.6" r="1.9" opacity="0.32"/><circle cx="1847.6" cy="588.1" r="2.0" opacity="0.61"/><circle cx="1974.3" cy="335.4" r="2.2" opacity="0.20"/><circle cx="1882.3" cy="517.8" r="1.8" opacity="0.18"/><circle cx="1825.2" cy="566.6" r="1.8" opacity="0.17"/><circle cx="1822.8" cy="428.6" r="2.4" opacity="0.14"/><circle cx="1889.6" cy="540.9" r="1.4" opacity="0.69"/><circle cx="1835.6" cy="610.3" r="2.5" opacity="0.26"/><circle cx="2052.7" cy="541.5" r="1.3" opacity="0.15"/><circle cx="1970.3" cy="363.3" r="1.8" opacity="0.14"/><circle cx="1886.5" cy="509.0" r="2.4" opacity="0.17"/><circle cx="1813.9" cy="559.6" r="2.7" opacity="0.32"/><circle cx="1992.8" cy="373.4" r="2.6" opacity="0.16"/><circle cx="1868.5" cy="347.0" r="2.4" opacity="0.14"/><circle cx="2041.8" cy="364.6" r="2.0" opacity="0.17"/><circle cx="1891.2" cy="470.0" r="1.7" opacity="0.16"/><circle cx="2074.0" cy="406.7" r="2.6" opacity="0.74"/><circle cx="1860.5" cy="480.7" r="1.7" opacity="0.19"/><circle cx="1801.7" cy="368.7" r="2.0" opacity="0.64"/><circle cx="1925.2" cy="408.5" r="1.5" opacity="0.26"/><circle cx="1994.2" cy="384.1" r="2.7" opacity="0.44"/><circle cx="1889.5" cy="513.1" r="1.5" opacity="0.57"/><circle cx="1898.7" cy="566.9" r="2.5" opacity="0.48"/><circle cx="1894.1" cy="560.8" r="2.2" opacity="0.62"/><circle cx="2067.3" cy="506.6" r="1.5" opacity="0.60"/><circle cx="1886.7" cy="373.4" r="1.9" opacity="0.49"/><circle cx="1848.7" cy="441.3" r="1.5" opacity="0.15"/><circle cx="1888.5" cy="486.2" r="2.2" opacity="0.21"/><circle cx="1884.6" cy="570.7" r="1.9" opacity="0.17"/><circle cx="1985.9" cy="332.8" r="2.7" opacity="0.31"/><circle cx="2031.9" cy="419.4" r="1.4" opacity="0.18"/><circle cx="1944.1" cy="457.6" r="1.4" opacity="0.16"/><circle cx="2063.1" cy="479.8" r="2.3" opacity="0.75"/><circle cx="1863.9" cy="440.2" r="2.4" opacity="0.14"/><circle cx="2026.4" cy="400.5" r="1.4" opacity="0.25"/><circle cx="1927.4" cy="384.6" r="1.6" opacity="0.74"/><circle cx="2080.1" cy="425.7" r="1.4" opacity="0.30"/><circle cx="1899.7" cy="550.5" r="1.7" opacity="0.15"/><circle cx="1862.4" cy="456.6" r="2.2" opacity="0.17"/><circle cx="1898.6" cy="559.6" r="2.2" opacity="0.45"/><circle cx="1891.3" cy="543.0" r="2.3" opacity="0.14"/><circle cx="1994.6" cy="437.7" r="2.6" opacity="0.17"/><circle cx="1930.9" cy="418.6" r="1.7" opacity="0.36"/><circle cx="1979.4" cy="541.8" r="1.7" opacity="0.60"/><circle cx="1947.4" cy="539.4" r="1.9" opacity="0.14"/><circle cx="1861.0" cy="508.9" r="1.7" opacity="0.21"/><circle cx="1813.7" cy="338.9" r="1.7" opacity="0.74"/><circle cx="1962.3" cy="468.0" r="2.1" opacity="0.15"/><circle cx="1819.2" cy="425.9" r="2.4" opacity="0.32"/><circle cx="1979.8" cy="410.5" r="1.5" opacity="0.18"/><circle cx="2078.5" cy="520.0" r="2.2" opacity="0.72"/><circle cx="2027.7" cy="479.5" r="1.4" opacity="0.14"/><circle cx="2002.9" cy="371.7" r="1.3" opacity="0.14"/><circle cx="1974.0" cy="334.6" r="1.8" opacity="0.65"/><circle cx="1898.8" cy="390.0" r="1.5" opacity="0.82"/><circle cx="1851.2" cy="388.8" r="1.9" opacity="0.45"/><circle cx="1859.1" cy="491.8" r="1.7" opacity="0.61"/><circle cx="1840.8" cy="518.8" r="1.6" opacity="0.14"/><circle cx="1855.7" cy="480.8" r="2.4" opacity="0.72"/><circle cx="1869.7" cy="595.0" r="2.2" opacity="0.47"/><circle cx="1876.7" cy="411.1" r="1.8" opacity="0.48"/><circle cx="2043.0" cy="517.6" r="2.4" opacity="0.52"/><circle cx="1911.5" cy="487.9" r="1.7" opacity="0.23"/><circle cx="1958.3" cy="404.1" r="1.9" opacity="0.16"/><circle cx="1981.7" cy="421.9" r="1.6" opacity="0.23"/><circle cx="1822.6" cy="597.5" r="1.7" opacity="0.19"/><circle cx="1989.2" cy="357.5" r="2.5" opacity="0.73"/><circle cx="1816.2" cy="360.1" r="1.8" opacity="0.42"/><circle cx="2064.3" cy="510.2" r="1.6" opacity="0.14"/><circle cx="1819.5" cy="574.1" r="1.8" opacity="0.16"/><circle cx="2042.1" cy="397.0" r="2.5" opacity="0.14"/><circle cx="1899.5" cy="388.3" r="2.6" opacity="0.79"/><circle cx="2011.4" cy="569.8" r="2.3" opacity="0.48"/><circle cx="2008.8" cy="544.5" r="1.8" opacity="0.32"/><circle cx="2025.9" cy="399.1" r="2.3" opacity="0.43"/><circle cx="1872.2" cy="360.3" r="1.6" opacity="0.32"/><circle cx="2056.6" cy="386.8" r="2.6" opacity="0.14"/><circle cx="1845.3" cy="434.9" r="1.4" opacity="0.30"/><circle cx="2012.6" cy="508.0" r="2.2" opacity="0.46"/><circle cx="1936.0" cy="407.9" r="2.4" opacity="0.14"/><circle cx="1980.5" cy="449.8" r="1.8" opacity="0.14"/><circle cx="2031.0" cy="489.2" r="2.5" opacity="0.60"/><circle cx="1911.4" cy="341.8" r="1.6" opacity="0.36"/><circle cx="1828.3" cy="556.2" r="1.6" opacity="0.59"/><circle cx="1826.9" cy="372.7" r="1.6" opacity="0.22"/><circle cx="1904.1" cy="545.4" r="2.5" opacity="0.16"/><circle cx="1873.4" cy="565.4" r="1.5" opacity="0.28"/><circle cx="1867.3" cy="509.9" r="1.5" opacity="0.50"/><circle cx="2050.1" cy="375.2" r="2.0" opacity="0.15"/><circle cx="2069.8" cy="454.6" r="1.6" opacity="0.16"/><circle cx="1870.7" cy="502.8" r="1.9" opacity="0.31"/><circle cx="2068.5" cy="470.9" r="2.5" opacity="0.42"/><circle cx="1917.0" cy="560.6" r="1.4" opacity="0.16"/><circle cx="1893.5" cy="572.1" r="1.4" opacity="0.14"/><circle cx="1894.1" cy="372.6" r="2.4" opacity="0.28"/><circle cx="1826.0" cy="570.5" r="2.1" opacity="0.30"/><circle cx="2019.5" cy="432.7" r="2.6" opacity="0.26"/><circle cx="1837.8" cy="529.2" r="1.8" opacity="0.54"/><circle cx="1822.0" cy="589.0" r="2.6" opacity="0.62"/><circle cx="1967.1" cy="445.0" r="2.6" opacity="0.53"/><circle cx="1892.8" cy="380.5" r="2.3" opacity="0.58"/><circle cx="1875.5" cy="522.7" r="2.2" opacity="0.15"/><circle cx="2019.0" cy="361.4" r="2.1" opacity="0.70"/><circle cx="2034.9" cy="373.8" r="1.9" opacity="0.31"/><circle cx="2058.8" cy="609.5" r="1.7" opacity="0.83"/><circle cx="1829.2" cy="439.1" r="2.2" opacity="0.25"/><circle cx="1960.4" cy="335.7" r="1.5" opacity="0.14"/><circle cx="2046.4" cy="543.9" r="2.6" opacity="0.16"/><circle cx="1814.3" cy="348.5" r="1.7" opacity="0.41"/><circle cx="1832.6" cy="534.8" r="2.5" opacity="0.31"/><circle cx="1901.3" cy="441.8" r="2.3" opacity="0.27"/><circle cx="1840.1" cy="410.5" r="1.7" opacity="0.15"/><circle cx="1954.6" cy="532.4" r="2.3" opacity="0.15"/><circle cx="1940.3" cy="559.0" r="2.5" opacity="0.14"/><circle cx="1886.3" cy="333.0" r="2.3" opacity="0.74"/><circle cx="2016.2" cy="393.7" r="2.2" opacity="0.17"/><circle cx="1818.6" cy="574.0" r="1.8" opacity="0.14"/><circle cx="2023.4" cy="386.5" r="2.7" opacity="0.16"/><circle cx="1867.4" cy="516.4" r="2.2" opacity="0.15"/><circle cx="2052.0" cy="435.3" r="2.4" opacity="0.16"/><circle cx="1919.1" cy="406.1" r="2.4" opacity="0.14"/><circle cx="1927.0" cy="437.1" r="1.4" opacity="0.16"/><circle cx="1834.2" cy="382.1" r="1.5" opacity="0.73"/><circle cx="1813.5" cy="404.4" r="2.1" opacity="0.68"/><circle cx="1873.3" cy="352.4" r="1.6" opacity="0.49"/><circle cx="2036.9" cy="350.5" r="2.1" opacity="0.24"/><circle cx="1867.5" cy="610.9" r="2.4" opacity="0.59"/><circle cx="1987.7" cy="340.7" r="1.8" opacity="0.53"/><circle cx="1809.3" cy="536.5" r="1.4" opacity="0.21"/><circle cx="1876.7" cy="520.4" r="1.6" opacity="0.58"/><circle cx="1911.8" cy="548.6" r="1.8" opacity="0.15"/><circle cx="1869.8" cy="473.9" r="2.0" opacity="0.66"/><circle cx="1894.9" cy="350.4" r="1.7" opacity="0.18"/><circle cx="1944.3" cy="397.5" r="1.8" opacity="0.16"/><circle cx="1952.2" cy="369.2" r="1.7" opacity="0.14"/><circle cx="1855.5" cy="503.1" r="1.7" opacity="0.60"/><circle cx="2051.7" cy="387.3" r="1.4" opacity="0.22"/><circle cx="2075.9" cy="491.7" r="2.2" opacity="0.19"/><circle cx="1964.8" cy="447.1" r="1.4" opacity="0.14"/><circle cx="1855.2" cy="536.6" r="1.8" opacity="0.70"/><circle cx="1881.4" cy="415.5" r="1.7" opacity="0.46"/><circle cx="1818.3" cy="473.1" r="2.0" opacity="0.14"/><circle cx="1867.3" cy="373.9" r="1.7" opacity="0.78"/><circle cx="1995.2" cy="402.8" r="1.6" opacity="0.41"/><circle cx="1925.8" cy="590.3" r="2.3" opacity="0.14"/><circle cx="2076.2" cy="548.4" r="2.3" opacity="0.44"/><circle cx="1895.9" cy="413.5" r="1.5" opacity="0.20"/><circle cx="1857.7" cy="441.3" r="1.9" opacity="0.14"/><circle cx="1855.2" cy="572.6" r="2.2" opacity="0.30"/><circle cx="1968.7" cy="376.9" r="2.1" opacity="0.16"/><circle cx="1804.9" cy="572.1" r="2.4" opacity="0.18"/><circle cx="1854.3" cy="548.0" r="1.7" opacity="0.77"/><circle cx="1830.8" cy="364.1" r="2.6" opacity="0.70"/><circle cx="1831.1" cy="480.7" r="2.0" opacity="0.59"/><circle cx="1925.8" cy="405.8" r="2.4" opacity="0.29"/><circle cx="1808.3" cy="391.6" r="1.9" opacity="0.15"/><circle cx="1830.4" cy="552.7" r="2.4" opacity="0.25"/><circle cx="2005.8" cy="437.8" r="1.7" opacity="0.15"/><circle cx="1863.9" cy="391.5" r="1.9" opacity="0.21"/><circle cx="1887.7" cy="500.2" r="1.6" opacity="0.14"/><circle cx="1977.2" cy="373.9" r="1.5" opacity="0.22"/><circle cx="1889.5" cy="572.0" r="2.5" opacity="0.19"/><circle cx="1860.0" cy="470.2" r="2.1" opacity="0.15"/><circle cx="1960.2" cy="505.2" r="2.1" opacity="0.24"/><circle cx="1866.2" cy="503.9" r="1.9" opacity="0.63"/><circle cx="1826.2" cy="395.6" r="2.5" opacity="0.18"/><circle cx="1821.9" cy="426.9" r="1.7" opacity="0.14"/><circle cx="1900.7" cy="511.1" r="2.6" opacity="0.75"/><circle cx="1950.8" cy="401.3" r="2.5" opacity="0.38"/><circle cx="1959.0" cy="554.2" r="1.9" opacity="0.33"/><circle cx="1844.5" cy="557.6" r="1.7" opacity="0.41"/><circle cx="1898.9" cy="378.4" r="1.8" opacity="0.19"/><circle cx="2005.5" cy="411.4" r="2.5" opacity="0.16"/><circle cx="1848.1" cy="387.6" r="2.7" opacity="0.67"/><circle cx="1898.3" cy="426.2" r="2.6" opacity="0.19"/><circle cx="1884.8" cy="351.8" r="2.1" opacity="0.14"/><circle cx="1919.7" cy="513.1" r="2.4" opacity="0.16"/><circle cx="2015.8" cy="526.6" r="1.9" opacity="0.14"/><circle cx="1814.1" cy="503.6" r="1.9" opacity="0.58"/><circle cx="2057.2" cy="458.6" r="1.5" opacity="0.15"/><circle cx="1987.1" cy="480.2" r="1.5" opacity="0.22"/><circle cx="1877.0" cy="348.8" r="1.6" opacity="0.19"/><circle cx="1922.1" cy="445.8" r="2.3" opacity="0.78"/><circle cx="1808.4" cy="532.4" r="1.7" opacity="0.48"/><circle cx="1959.1" cy="605.5" r="2.5" opacity="0.25"/><circle cx="1816.1" cy="478.6" r="1.4" opacity="0.18"/><circle cx="1853.8" cy="585.0" r="2.1" opacity="0.71"/><circle cx="1912.6" cy="516.4" r="2.7" opacity="0.44"/><circle cx="1879.1" cy="481.0" r="2.4" opacity="0.17"/><circle cx="2066.5" cy="565.1" r="1.9" opacity="0.14"/><circle cx="1861.1" cy="361.6" r="1.4" opacity="0.47"/><circle cx="1977.6" cy="470.6" r="1.3" opacity="0.50"/><circle cx="1838.4" cy="581.6" r="2.0" opacity="0.37"/><circle cx="2007.5" cy="414.4" r="2.1" opacity="0.21"/><circle cx="1921.4" cy="516.6" r="2.1" opacity="0.62"/><circle cx="2024.3" cy="532.2" r="1.7" opacity="0.19"/><circle cx="2070.7" cy="586.1" r="2.7" opacity="0.45"/><circle cx="1998.4" cy="589.0" r="2.6" opacity="0.16"/><circle cx="1986.7" cy="422.6" r="2.0" opacity="0.21"/><circle cx="1893.9" cy="439.5" r="2.3" opacity="0.14"/><circle cx="1831.2" cy="538.9" r="2.4" opacity="0.15"/><circle cx="2077.5" cy="372.4" r="2.3" opacity="0.17"/><circle cx="2008.5" cy="332.9" r="2.2" opacity="0.18"/><circle cx="1812.5" cy="447.4" r="1.9" opacity="0.18"/><circle cx="1870.5" cy="565.1" r="2.2" opacity="0.23"/><circle cx="1913.3" cy="379.3" r="1.7" opacity="0.22"/><circle cx="1893.2" cy="477.0" r="1.5" opacity="0.57"/><circle cx="1881.8" cy="598.6" r="1.3" opacity="0.37"/><circle cx="1906.5" cy="383.5" r="2.3" opacity="0.59"/><circle cx="2061.3" cy="460.0" r="2.3" opacity="0.22"/><circle cx="1975.7" cy="489.5" r="2.2" opacity="0.45"/><circle cx="2064.5" cy="491.3" r="2.1" opacity="0.83"/><circle cx="1895.3" cy="336.2" r="2.5" opacity="0.80"/><circle cx="1928.0" cy="370.3" r="2.0" opacity="0.51"/><circle cx="1890.2" cy="432.6" r="2.7" opacity="0.74"/><circle cx="1909.1" cy="596.0" r="2.4" opacity="0.49"/><circle cx="1994.3" cy="487.2" r="1.9" opacity="0.19"/><circle cx="1905.2" cy="363.1" r="2.7" opacity="0.38"/><circle cx="1895.2" cy="351.6" r="1.5" opacity="0.65"/><circle cx="1967.0" cy="505.3" r="1.9" opacity="0.17"/><circle cx="2020.4" cy="443.4" r="2.7" opacity="0.14"/><circle cx="1827.2" cy="522.6" r="1.8" opacity="0.18"/><circle cx="1848.5" cy="461.4" r="1.9" opacity="0.14"/><circle cx="1887.6" cy="511.5" r="2.3" opacity="0.80"/><circle cx="1922.3" cy="608.4" r="1.7" opacity="0.14"/><circle cx="2026.1" cy="433.6" r="1.6" opacity="0.49"/><circle cx="1802.8" cy="528.9" r="2.6" opacity="0.37"/><circle cx="1932.7" cy="343.7" r="1.9" opacity="0.48"/><circle cx="1988.9" cy="485.6" r="2.4" opacity="0.37"/><circle cx="1853.3" cy="526.0" r="2.2" opacity="0.26"/><circle cx="1951.5" cy="354.8" r="2.4" opacity="0.65"/><circle cx="1898.5" cy="584.5" r="2.5" opacity="0.58"/><circle cx="1919.5" cy="514.6" r="2.5" opacity="0.14"/><circle cx="1840.1" cy="611.9" r="2.7" opacity="0.41"/><circle cx="2078.9" cy="542.0" r="2.3" opacity="0.74"/><circle cx="2038.0" cy="341.2" r="2.6" opacity="0.82"/><circle cx="1896.1" cy="347.8" r="1.9" opacity="0.84"/><circle cx="2035.3" cy="363.7" r="2.0" opacity="0.14"/><circle cx="2055.9" cy="450.7" r="1.8" opacity="0.52"/><circle cx="1958.4" cy="480.7" r="1.6" opacity="0.67"/><circle cx="1862.5" cy="555.9" r="2.6" opacity="0.27"/><circle cx="1844.8" cy="534.0" r="2.3" opacity="0.45"/><circle cx="2023.5" cy="506.1" r="1.3" opacity="0.24"/><circle cx="2034.4" cy="417.0" r="1.8" opacity="0.35"/><circle cx="1901.9" cy="418.4" r="1.7" opacity="0.76"/><circle cx="2063.5" cy="437.1" r="2.4" opacity="0.23"/><circle cx="1975.1" cy="575.5" r="1.4" opacity="0.63"/><circle cx="2023.7" cy="398.9" r="2.5" opacity="0.25"/><circle cx="1988.2" cy="356.2" r="2.7" opacity="0.32"/><circle cx="1816.2" cy="385.7" r="2.3" opacity="0.14"/><circle cx="1885.7" cy="406.4" r="2.4" opacity="0.82"/><circle cx="1822.7" cy="454.3" r="2.5" opacity="0.22"/><circle cx="1926.7" cy="333.4" r="2.7" opacity="0.14"/><circle cx="1816.3" cy="508.6" r="1.6" opacity="0.15"/><circle cx="1970.4" cy="388.9" r="1.6" opacity="0.62"/><circle cx="2024.2" cy="570.2" r="1.9" opacity="0.27"/><circle cx="1853.7" cy="602.4" r="2.4" opacity="0.42"/><circle cx="1840.8" cy="574.7" r="1.6" opacity="0.17"/><circle cx="2054.9" cy="449.3" r="2.2" opacity="0.26"/><circle cx="1826.1" cy="413.3" r="1.7" opacity="0.14"/><circle cx="2055.7" cy="456.1" r="1.8" opacity="0.38"/><circle cx="1876.0" cy="350.7" r="2.0" opacity="0.17"/><circle cx="1863.1" cy="388.9" r="2.3" opacity="0.42"/><circle cx="1873.3" cy="562.5" r="2.2" opacity="0.15"/><circle cx="1896.4" cy="553.7" r="2.0" opacity="0.77"/><circle cx="1808.0" cy="566.8" r="1.9" opacity="0.45"/><circle cx="1890.9" cy="347.9" r="1.9" opacity="0.83"/><circle cx="1952.7" cy="406.5" r="1.8" opacity="0.70"/><circle cx="1876.7" cy="487.1" r="2.5" opacity="0.18"/><circle cx="2051.1" cy="443.8" r="1.6" opacity="0.31"/><circle cx="1817.6" cy="379.2" r="2.1" opacity="0.15"/><circle cx="1879.9" cy="585.7" r="1.6" opacity="0.49"/><circle cx="1881.6" cy="502.5" r="2.4" opacity="0.15"/><circle cx="2071.4" cy="585.0" r="2.0" opacity="0.32"/><circle cx="1944.3" cy="455.4" r="2.6" opacity="0.38"/><circle cx="2058.9" cy="550.9" r="1.6" opacity="0.15"/><circle cx="1881.7" cy="399.2" r="1.6" opacity="0.25"/><circle cx="1998.7" cy="558.5" r="2.6" opacity="0.20"/><circle cx="1879.4" cy="540.3" r="1.8" opacity="0.23"/><circle cx="1930.9" cy="469.6" r="2.7" opacity="0.49"/><circle cx="1867.8" cy="384.6" r="2.3" opacity="0.14"/><circle cx="2014.4" cy="527.7" r="1.8" opacity="0.17"/><circle cx="1805.9" cy="431.2" r="2.3" opacity="0.47"/><circle cx="1933.4" cy="505.8" r="2.5" opacity="0.15"/><circle cx="1954.3" cy="447.9" r="2.6" opacity="0.29"/><circle cx="1853.3" cy="400.9" r="1.9" opacity="0.72"/><circle cx="2077.2" cy="386.6" r="2.6" opacity="0.59"/><circle cx="2050.4" cy="432.8" r="2.7" opacity="0.14"/><circle cx="1966.1" cy="424.3" r="2.5" opacity="0.35"/><circle cx="1986.4" cy="504.0" r="1.8" opacity="0.14"/><circle cx="1867.8" cy="512.5" r="1.5" opacity="0.37"/><circle cx="1805.8" cy="529.6" r="1.8" opacity="0.64"/><circle cx="1887.4" cy="493.5" r="2.2" opacity="0.41"/><circle cx="1869.0" cy="513.9" r="1.7" opacity="0.54"/><circle cx="1809.2" cy="371.1" r="1.6" opacity="0.38"/><circle cx="1934.3" cy="342.0" r="2.6" opacity="0.19"/><circle cx="1922.7" cy="397.0" r="1.8" opacity="0.19"/><circle cx="2023.8" cy="361.5" r="1.4" opacity="0.33"/><circle cx="1852.8" cy="521.1" r="2.6" opacity="0.55"/><circle cx="1871.0" cy="355.3" r="1.3" opacity="0.15"/><circle cx="1883.9" cy="354.6" r="2.4" opacity="0.40"/><circle cx="2004.4" cy="441.9" r="1.6" opacity="0.51"/><circle cx="1841.3" cy="556.0" r="2.1" opacity="0.59"/><circle cx="1804.7" cy="412.3" r="1.9" opacity="0.32"/><circle cx="1917.8" cy="346.6" r="2.3" opacity="0.14"/><circle cx="1893.3" cy="508.4" r="1.3" opacity="0.38"/><circle cx="2031.0" cy="432.4" r="2.2" opacity="0.38"/><circle cx="1939.3" cy="354.2" r="1.4" opacity="0.21"/><circle cx="1862.2" cy="408.3" r="2.5" opacity="0.24"/><circle cx="1856.8" cy="585.2" r="2.4" opacity="0.82"/><circle cx="1865.6" cy="539.4" r="1.3" opacity="0.15"/><circle cx="1951.2" cy="588.0" r="1.6" opacity="0.62"/><circle cx="2012.7" cy="354.1" r="2.1" opacity="0.64"/><circle cx="1939.4" cy="467.8" r="2.4" opacity="0.70"/><circle cx="1877.4" cy="594.8" r="1.5" opacity="0.67"/><circle cx="1810.9" cy="513.3" r="1.3" opacity="0.14"/><circle cx="1906.7" cy="377.4" r="2.6" opacity="0.27"/><circle cx="1960.8" cy="360.4" r="2.0" opacity="0.65"/><circle cx="1865.8" cy="349.0" r="1.4" opacity="0.76"/><circle cx="1835.5" cy="544.5" r="2.3" opacity="0.15"/><circle cx="1867.6" cy="469.7" r="2.4" opacity="0.48"/><circle cx="2033.7" cy="384.7" r="1.4" opacity="0.15"/><circle cx="1877.3" cy="338.9" r="2.0" opacity="0.72"/><circle cx="1867.2" cy="445.5" r="2.1" opacity="0.23"/><circle cx="2011.1" cy="485.7" r="1.4" opacity="0.70"/><circle cx="1866.1" cy="508.1" r="2.4" opacity="0.45"/><circle cx="1992.6" cy="394.3" r="2.5" opacity="0.20"/><circle cx="1982.8" cy="526.1" r="1.3" opacity="0.14"/><circle cx="1917.9" cy="355.8" r="1.8" opacity="0.44"/><circle cx="2001.4" cy="513.0" r="2.3" opacity="0.33"/><circle cx="1915.6" cy="612.3" r="1.3" opacity="0.20"/><circle cx="1872.4" cy="529.5" r="1.8" opacity="0.22"/><circle cx="1835.5" cy="486.6" r="1.9" opacity="0.76"/><circle cx="1804.5" cy="512.7" r="2.6" opacity="0.30"/><circle cx="1872.1" cy="480.0" r="1.4" opacity="0.17"/><circle cx="1866.1" cy="489.6" r="2.6" opacity="0.26"/><circle cx="1980.2" cy="340.5" r="1.9" opacity="0.52"/><circle cx="2054.4" cy="515.3" r="2.6" opacity="0.29"/><circle cx="1857.6" cy="368.4" r="1.6" opacity="0.21"/><circle cx="1984.6" cy="375.7" r="2.2" opacity="0.17"/><circle cx="1939.4" cy="553.0" r="2.3" opacity="0.16"/><circle cx="1871.6" cy="540.8" r="2.1" opacity="0.51"/><circle cx="1868.9" cy="334.8" r="1.8" opacity="0.58"/><circle cx="2019.4" cy="564.3" r="2.6" opacity="0.29"/><circle cx="1857.7" cy="469.7" r="2.5" opacity="0.59"/><circle cx="1816.8" cy="484.5" r="2.2" opacity="0.21"/><circle cx="2063.6" cy="568.0" r="2.1" opacity="0.26"/><circle cx="1893.0" cy="574.6" r="1.9" opacity="0.21"/><circle cx="1909.2" cy="388.5" r="2.6" opacity="0.35"/><circle cx="1810.2" cy="448.1" r="1.4" opacity="0.56"/><circle cx="1829.2" cy="513.0" r="2.5" opacity="0.24"/><circle cx="1918.3" cy="483.6" r="2.0" opacity="0.23"/><circle cx="1959.7" cy="606.6" r="2.3" opacity="0.24"/><circle cx="2025.9" cy="568.8" r="2.3" opacity="0.76"/><circle cx="2005.0" cy="421.2" r="2.0" opacity="0.14"/><circle cx="1945.8" cy="404.9" r="1.3" opacity="0.32"/><circle cx="2078.6" cy="596.9" r="2.6" opacity="0.14"/><circle cx="1913.9" cy="564.2" r="2.6" opacity="0.50"/><circle cx="1904.5" cy="410.0" r="2.5" opacity="0.21"/><circle cx="1878.3" cy="385.3" r="2.1" opacity="0.35"/><circle cx="1935.5" cy="440.7" r="1.3" opacity="0.28"/><circle cx="1887.0" cy="461.0" r="1.4" opacity="0.19"/><circle cx="1961.0" cy="430.8" r="2.4" opacity="0.51"/><circle cx="1814.3" cy="482.5" r="2.5" opacity="0.19"/><circle cx="1939.7" cy="481.9" r="2.3" opacity="0.35"/><circle cx="1806.8" cy="431.7" r="2.6" opacity="0.27"/><circle cx="1804.1" cy="443.7" r="1.7" opacity="0.15"/><circle cx="2042.1" cy="609.2" r="1.5" opacity="0.18"/><circle cx="1982.5" cy="560.1" r="2.2" opacity="0.35"/><circle cx="1814.0" cy="414.1" r="2.3" opacity="0.47"/><circle cx="1882.1" cy="392.8" r="1.9" opacity="0.46"/><circle cx="1837.0" cy="606.5" r="1.8" opacity="0.64"/><circle cx="1827.8" cy="369.4" r="2.5" opacity="0.19"/><circle cx="1825.5" cy="386.0" r="2.4" opacity="0.40"/><circle cx="1853.1" cy="538.3" r="1.9" opacity="0.24"/><circle cx="1811.4" cy="591.5" r="2.2" opacity="0.78"/><circle cx="1841.5" cy="592.0" r="2.5" opacity="0.53"/><circle cx="1948.7" cy="444.0" r="2.3" opacity="0.14"/><circle cx="1855.0" cy="448.3" r="2.0" opacity="0.18"/><circle cx="1897.5" cy="345.1" r="2.4" opacity="0.83"/><circle cx="2044.1" cy="562.4" r="1.8" opacity="0.18"/><circle cx="1999.4" cy="593.8" r="2.2" opacity="0.65"/><circle cx="1945.3" cy="484.7" r="1.4" opacity="0.23"/><circle cx="1825.5" cy="346.2" r="2.3" opacity="0.73"/><circle cx="1976.5" cy="469.0" r="2.2" opacity="0.71"/><circle cx="1960.6" cy="468.2" r="1.9" opacity="0.29"/><circle cx="2057.0" cy="374.9" r="1.3" opacity="0.64"/><circle cx="1882.2" cy="564.6" r="2.1" opacity="0.44"/><circle cx="1946.0" cy="354.1" r="1.9" opacity="0.20"/><circle cx="1926.5" cy="454.3" r="2.3" opacity="0.14"/><circle cx="1852.5" cy="610.9" r="1.6" opacity="0.40"/><circle cx="1845.1" cy="397.0" r="2.6" opacity="0.34"/><circle cx="1845.8" cy="443.7" r="2.6" opacity="0.31"/><circle cx="1913.7" cy="561.1" r="2.4" opacity="0.14"/><circle cx="1909.4" cy="610.2" r="2.1" opacity="0.71"/><circle cx="2003.1" cy="413.0" r="2.6" opacity="0.22"/><circle cx="2047.9" cy="467.4" r="1.7" opacity="0.14"/><circle cx="1805.5" cy="426.4" r="1.7" opacity="0.25"/><circle cx="1924.6" cy="357.7" r="2.4" opacity="0.54"/><circle cx="1948.1" cy="353.7" r="1.9" opacity="0.18"/><circle cx="1800.6" cy="498.5" r="2.0" opacity="0.85"/><circle cx="1996.1" cy="393.9" r="1.5" opacity="0.68"/><circle cx="1890.4" cy="391.0" r="1.6" opacity="0.38"/><circle cx="2061.5" cy="568.3" r="1.9" opacity="0.37"/><circle cx="1869.4" cy="345.8" r="2.6" opacity="0.15"/><circle cx="1980.9" cy="419.5" r="2.0" opacity="0.22"/><circle cx="1933.4" cy="367.3" r="2.1" opacity="0.65"/><circle cx="1864.9" cy="468.0" r="1.8" opacity="0.32"/><circle cx="1926.1" cy="483.2" r="2.4" opacity="0.15"/><circle cx="1846.0" cy="480.8" r="2.5" opacity="0.44"/><circle cx="1837.0" cy="371.6" r="2.6" opacity="0.59"/><circle cx="1860.2" cy="516.4" r="2.6" opacity="0.51"/><circle cx="2044.3" cy="403.3" r="2.2" opacity="0.60"/><circle cx="2070.5" cy="357.6" r="2.0" opacity="0.38"/><circle cx="1947.5" cy="609.1" r="2.4" opacity="0.46"/><circle cx="1901.3" cy="390.3" r="1.6" opacity="0.28"/><circle cx="1855.5" cy="472.4" r="1.8" opacity="0.15"/><circle cx="1831.7" cy="435.7" r="1.4" opacity="0.15"/><circle cx="2019.4" cy="498.6" r="1.9" opacity="0.33"/><circle cx="1820.8" cy="421.3" r="2.6" opacity="0.50"/><circle cx="1844.4" cy="489.6" r="1.8" opacity="0.15"/><circle cx="1816.4" cy="340.7" r="1.6" opacity="0.15"/><circle cx="2067.5" cy="397.7" r="2.5" opacity="0.16"/><circle cx="1908.1" cy="419.6" r="1.7" opacity="0.18"/><circle cx="1962.4" cy="497.5" r="2.1" opacity="0.24"/><circle cx="1846.0" cy="427.0" r="2.1" opacity="0.37"/><circle cx="1842.2" cy="591.1" r="2.4" opacity="0.29"/><circle cx="2044.1" cy="415.0" r="2.0" opacity="0.26"/><circle cx="2039.3" cy="501.8" r="1.6" opacity="0.51"/><circle cx="1996.5" cy="476.2" r="2.0" opacity="0.15"/><circle cx="2077.0" cy="383.8" r="2.3" opacity="0.14"/><circle cx="1990.7" cy="382.4" r="2.5" opacity="0.59"/><circle cx="1985.5" cy="360.9" r="1.6" opacity="0.83"/><circle cx="1928.2" cy="410.6" r="2.2" opacity="0.21"/><circle cx="1812.0" cy="448.7" r="1.5" opacity="0.19"/><circle cx="1928.1" cy="406.7" r="1.5" opacity="0.37"/><circle cx="1980.4" cy="478.9" r="2.3" opacity="0.24"/><circle cx="2026.3" cy="485.5" r="1.7" opacity="0.80"/><circle cx="1890.8" cy="454.8" r="2.3" opacity="0.75"/><circle cx="1888.8" cy="338.2" r="2.6" opacity="0.25"/><circle cx="1876.9" cy="589.1" r="2.2" opacity="0.60"/><circle cx="1888.5" cy="425.1" r="1.6" opacity="0.61"/><circle cx="1970.1" cy="591.9" r="1.5" opacity="0.54"/><circle cx="2025.6" cy="529.4" r="2.0" opacity="0.71"/><circle cx="1837.2" cy="333.8" r="2.6" opacity="0.30"/><circle cx="1921.8" cy="446.2" r="2.1" opacity="0.53"/><circle cx="1872.3" cy="378.4" r="1.4" opacity="0.34"/><circle cx="1831.2" cy="333.7" r="1.3" opacity="0.76"/><circle cx="1926.6" cy="481.6" r="2.1" opacity="0.15"/><circle cx="2004.9" cy="459.6" r="1.7" opacity="0.68"/><circle cx="1953.6" cy="380.0" r="1.9" opacity="0.38"/><circle cx="1837.7" cy="528.6" r="1.7" opacity="0.25"/><circle cx="2072.3" cy="458.0" r="2.3" opacity="0.85"/><circle cx="1996.9" cy="515.4" r="1.9" opacity="0.14"/><circle cx="2013.3" cy="364.7" r="1.6" opacity="0.25"/><circle cx="1964.0" cy="335.8" r="1.7" opacity="0.38"/><circle cx="1858.3" cy="482.7" r="1.6" opacity="0.20"/><circle cx="1864.9" cy="408.3" r="1.4" opacity="0.14"/><circle cx="2064.9" cy="356.6" r="1.8" opacity="0.14"/><circle cx="2028.5" cy="528.8" r="1.4" opacity="0.61"/><circle cx="1808.3" cy="602.5" r="1.8" opacity="0.55"/><circle cx="1829.5" cy="598.8" r="2.7" opacity="0.20"/><circle cx="1900.5" cy="585.0" r="2.2" opacity="0.28"/><circle cx="1854.9" cy="387.3" r="1.6" opacity="0.38"/><circle cx="1971.0" cy="446.0" r="1.6" opacity="0.17"/><circle cx="1888.2" cy="572.4" r="1.3" opacity="0.59"/><circle cx="1879.5" cy="478.2" r="2.1" opacity="0.16"/><circle cx="1808.0" cy="575.3" r="1.7" opacity="0.22"/><circle cx="1877.9" cy="580.8" r="1.9" opacity="0.24"/><circle cx="1896.6" cy="545.2" r="1.4" opacity="0.15"/><circle cx="2013.8" cy="505.8" r="1.9" opacity="0.82"/><circle cx="1804.1" cy="557.3" r="1.6" opacity="0.70"/><circle cx="1937.2" cy="385.8" r="1.8" opacity="0.15"/><circle cx="1991.8" cy="378.6" r="2.4" opacity="0.17"/><circle cx="1834.8" cy="548.1" r="2.0" opacity="0.61"/><circle cx="1812.4" cy="553.7" r="1.5" opacity="0.31"/><circle cx="1866.2" cy="584.3" r="1.6" opacity="0.29"/><circle cx="2069.6" cy="425.4" r="1.3" opacity="0.20"/><circle cx="2006.8" cy="388.7" r="2.5" opacity="0.22"/><circle cx="1892.0" cy="546.1" r="1.8" opacity="0.16"/><circle cx="1908.0" cy="592.8" r="1.7" opacity="0.33"/><circle cx="1888.2" cy="460.7" r="2.7" opacity="0.16"/><circle cx="2008.1" cy="333.6" r="2.7" opacity="0.51"/><circle cx="1985.8" cy="382.8" r="2.3" opacity="0.74"/><circle cx="1982.7" cy="369.1" r="1.9" opacity="0.20"/><circle cx="1956.8" cy="391.2" r="1.6" opacity="0.44"/><circle cx="2079.3" cy="352.4" r="2.7" opacity="0.19"/><circle cx="1881.9" cy="589.8" r="1.9" opacity="0.29"/><circle cx="1973.3" cy="426.5" r="2.2" opacity="0.41"/><circle cx="1941.4" cy="454.2" r="1.8" opacity="0.19"/><circle cx="1974.0" cy="530.3" r="2.6" opacity="0.15"/><circle cx="1810.7" cy="500.1" r="2.3" opacity="0.19"/><circle cx="1948.8" cy="606.8" r="2.1" opacity="0.15"/><circle cx="1979.3" cy="488.9" r="2.4" opacity="0.66"/><circle cx="1838.7" cy="394.0" r="1.4" opacity="0.33"/><circle cx="1880.1" cy="542.0" r="2.4" opacity="0.48"/><circle cx="1832.8" cy="484.8" r="2.6" opacity="0.43"/><circle cx="1843.1" cy="508.0" r="2.2" opacity="0.24"/><circle cx="2009.1" cy="611.4" r="2.5" opacity="0.29"/><circle cx="1901.3" cy="485.7" r="1.6" opacity="0.15"/><circle cx="1868.3" cy="558.7" r="2.2" opacity="0.16"/><circle cx="2035.5" cy="517.2" r="2.4" opacity="0.34"/><circle cx="1906.5" cy="586.3" r="1.5" opacity="0.65"/><circle cx="1838.9" cy="605.3" r="1.3" opacity="0.24"/><circle cx="2023.5" cy="434.2" r="2.3" opacity="0.38"/><circle cx="1956.6" cy="534.5" r="2.6" opacity="0.61"/><circle cx="1857.7" cy="585.0" r="2.2" opacity="0.14"/><circle cx="1810.1" cy="482.0" r="2.2" opacity="0.39"/><circle cx="2018.8" cy="364.1" r="1.4" opacity="0.14"/><circle cx="1885.9" cy="413.3" r="1.5" opacity="0.19"/><circle cx="1897.1" cy="496.9" r="2.4" opacity="0.22"/><circle cx="1931.0" cy="363.6" r="1.7" opacity="0.15"/><circle cx="2036.5" cy="473.1" r="2.0" opacity="0.16"/><circle cx="2007.8" cy="344.6" r="1.6" opacity="0.14"/><circle cx="1840.3" cy="414.2" r="2.2" opacity="0.27"/><circle cx="2077.3" cy="510.3" r="2.3" opacity="0.26"/><circle cx="1933.2" cy="477.1" r="1.4" opacity="0.16"/><circle cx="2072.7" cy="481.1" r="2.2" opacity="0.15"/><circle cx="1929.5" cy="549.0" r="2.3" opacity="0.19"/><circle cx="1922.0" cy="395.5" r="2.3" opacity="0.36"/><circle cx="1928.2" cy="557.4" r="1.7" opacity="0.14"/><circle cx="1821.9" cy="370.2" r="2.6" opacity="0.18"/><circle cx="2071.6" cy="435.0" r="2.3" opacity="0.15"/><circle cx="1944.3" cy="366.2" r="2.6" opacity="0.16"/><circle cx="1908.1" cy="427.5" r="2.0" opacity="0.18"/><circle cx="1869.2" cy="392.3" r="2.6" opacity="0.17"/><circle cx="1952.6" cy="528.8" r="2.6" opacity="0.41"/><circle cx="1848.9" cy="579.8" r="2.2" opacity="0.15"/><circle cx="1900.6" cy="454.4" r="1.4" opacity="0.55"/><circle cx="1842.0" cy="533.4" r="2.3" opacity="0.35"/><circle cx="1957.2" cy="354.7" r="2.6" opacity="0.60"/><circle cx="1848.1" cy="469.6" r="2.3" opacity="0.15"/><circle cx="1930.7" cy="565.6" r="2.4" opacity="0.53"/><circle cx="1852.5" cy="525.0" r="2.3" opacity="0.80"/><circle cx="1960.8" cy="475.5" r="2.2" opacity="0.16"/><circle cx="1853.7" cy="529.6" r="1.8" opacity="0.25"/><circle cx="2045.1" cy="602.3" r="2.0" opacity="0.58"/><circle cx="2044.9" cy="467.3" r="2.4" opacity="0.42"/><circle cx="1984.7" cy="474.9" r="1.8" opacity="0.14"/><circle cx="1936.5" cy="506.0" r="1.5" opacity="0.69"/><circle cx="1819.7" cy="409.3" r="2.0" opacity="0.28"/><circle cx="2007.2" cy="418.3" r="2.5" opacity="0.33"/><circle cx="1888.6" cy="525.5" r="2.2" opacity="0.15"/><circle cx="1825.8" cy="355.6" r="1.4" opacity="0.21"/><circle cx="1885.8" cy="464.4" r="2.0" opacity="0.14"/><circle cx="1900.9" cy="442.6" r="2.3" opacity="0.29"/><circle cx="1883.5" cy="612.2" r="2.1" opacity="0.41"/><circle cx="1968.5" cy="439.0" r="1.4" opacity="0.16"/><circle cx="2080.0" cy="408.8" r="2.0" opacity="0.24"/><circle cx="2031.3" cy="540.5" r="2.1" opacity="0.16"/><circle cx="2075.2" cy="572.1" r="1.4" opacity="0.74"/><circle cx="1912.4" cy="475.5" r="1.6" opacity="0.74"/><circle cx="1942.5" cy="461.1" r="2.2" opacity="0.17"/><circle cx="2057.4" cy="334.8" r="2.1" opacity="0.14"/><circle cx="1923.0" cy="392.1" r="2.6" opacity="0.69"/><circle cx="2011.2" cy="442.3" r="2.4" opacity="0.15"/><circle cx="2040.3" cy="409.4" r="2.3" opacity="0.59"/><circle cx="1963.5" cy="494.0" r="1.6" opacity="0.14"/><circle cx="1843.5" cy="571.2" r="2.2" opacity="0.16"/><circle cx="1962.3" cy="345.4" r="1.7" opacity="0.14"/><circle cx="1998.5" cy="477.1" r="1.7" opacity="0.28"/><circle cx="1900.1" cy="483.6" r="2.5" opacity="0.57"/><circle cx="1887.0" cy="391.9" r="2.1" opacity="0.14"/><circle cx="1834.4" cy="355.0" r="2.1" opacity="0.19"/><circle cx="1950.1" cy="512.1" r="2.1" opacity="0.57"/><circle cx="1905.3" cy="600.5" r="1.7" opacity="0.44"/><circle cx="1942.2" cy="538.3" r="1.4" opacity="0.27"/><circle cx="1922.3" cy="334.7" r="1.6" opacity="0.58"/><circle cx="1942.5" cy="583.3" r="1.7" opacity="0.33"/><circle cx="1811.7" cy="491.8" r="1.5" opacity="0.16"/><circle cx="1809.4" cy="543.8" r="2.4" opacity="0.14"/><circle cx="1998.3" cy="554.3" r="2.3" opacity="0.83"/><circle cx="1906.4" cy="480.2" r="1.8" opacity="0.76"/><circle cx="1997.7" cy="448.8" r="2.0" opacity="0.15"/><circle cx="1916.3" cy="541.2" r="2.4" opacity="0.29"/><circle cx="2012.7" cy="346.7" r="2.7" opacity="0.23"/></g>
<ellipse cx="1880.0" cy="463.0" rx="45.0" ry="7.0" fill="#fff" fill-opacity="0.35" filter="url(#bl4)" transform="rotate(6 1880.0 463.0)"/>
<ellipse cx="1877.0" cy="463.7" rx="5.0" ry="4.0" fill="#fff" fill-opacity="0.9" filter="url(#bl1_5)"/>
<ellipse cx="1938.5" cy="467.0" rx="7.0" ry="5.0" fill="#fff" fill-opacity="0.95" filter="url(#bl1_5)"/>
<rect x="1800.5" y="611.05" width="280.0" height="1.45" fill="#fff"/>
</g>
<polygon points="1933.43,461.10 1935.50,463.10 1940.10,463.10 1941.97,461.23 1946.57,461.23 1950.70,465.17 1950.70,467.67 1948.43,469.67 1946.33,469.77 1944.43,471.83 1944.43,473.70 1939.90,478.30 1935.70,478.30 1933.63,476.00 1933.63,471.83 1929.23,471.83 1927.10,469.57 1927.10,467.23" fill="none" stroke="#0000ff" stroke-opacity="0.7" stroke-width="1"/>
<path d="M1964.60 377.27L1972.40 385.07M1964.60 385.07L1972.40 377.27" stroke="#008000" stroke-width="1.5" fill="none"/>
<path d="M1877.73 538.87L1885.53 546.67M1877.73 546.67L1885.53 538.87" stroke="#ff0000" stroke-width="1.5" fill="none"/>
<rect x="1800.5" y="332.5" width="280.0" height="280.0" fill="none" stroke="#000" stroke-width="1.3"/>
<path d="M1836.57 332.5l0.6 -4.86M1895.83 332.5l0.6 -4.86M1955.50 332.5l0.6 -4.86M2015.17 332.5l0.6 -4.86M2074.50 332.5l0.6 -4.86M1817.37 612.5l-0.6 4.86M1876.03 612.5l-0.6 4.86M1935.03 612.5l-0.6 4.86M1994.03 612.5l-0.6 4.86M2053.03 612.5l-0.6 4.86M1800.5 353.50l-4.86 -0.2M1800.5 423.50l-4.86 -0.2M1800.5 493.50l-4.86 -0.2M1800.5 563.83l-4.86 -0.2M2080.5 375.50l4.86 0.2M2080.5 445.83l4.86 0.2M2080.5 515.83l4.86 0.2M2080.5 585.83l4.86 0.2" stroke="#000" stroke-width="1.1" fill="none"/>
<rect x="2101.5" y="332.5" width="14.0" height="280.0" fill="url(#cb)" stroke="#000" stroke-width="1.1"/>
<path d="M2115.5 382.00h4.86M2115.5 443.30h4.86M2115.5 504.60h4.86M2115.5 565.90h4.86" stroke="#000" stroke-width="1.1" fill="none"/>
<g clip-path="url(#clipR3)">
<rect x="1800.5" y="626.5" width="280.0" height="280.0" fill="#555"/>
<g transform="rotate(0 1940.5 766.5)"><rect x="1800.5" y="626.5" width="280.0" height="280.0" filter="url(#nR3)"/></g>
<ellipse cx="1865.0" cy="755.0" rx="66.0" ry="9.0" fill="#fff" fill-opacity="0.5" filter="url(#bl4)" transform="rotate(5 1865.0 755.0)"/>
<ellipse cx="1886.0" cy="757.5" rx="44.0" ry="6.0" fill="#fff" fill-opacity="0.85" filter="url(#bl3)" transform="rotate(4 1886.0 757.5)"/>
<ellipse cx="1846.0" cy="752.5" rx="6.5" ry="5.8" fill="#fff" fill-opacity="0.9" filter="url(#bl2)"/>
<ellipse cx="1862.0" cy="755.0" rx="6.5" ry="5.8" fill="#fff" fill-opacity="0.9" filter="url(#bl2)"/>
<ellipse cx="1877.0" cy="757.0" rx="6.5" ry="5.8" fill="#fff" fill-opacity="0.9" filter="url(#bl2)"/>
<ellipse cx="1893.0" cy="759.0" rx="6.5" ry="5.8" fill="#fff" fill-opacity="0.9" filter="url(#bl2)"/>
<ellipse cx="1908.0" cy="760.0" rx="6.5" ry="5.8" fill="#fff" fill-opacity="0.9" filter="url(#bl2)"/>
<ellipse cx="1921.0" cy="760.5" rx="6.5" ry="5.8" fill="#fff" fill-opacity="0.9" filter="url(#bl2)"/>
<ellipse cx="1937.0" cy="761.0" rx="7.0" ry="6.0" fill="#fff" fill-opacity="0.9" filter="url(#bl2)"/>
<rect x="1800.5" y="905.05" width="280.0" height="1.45" fill="#fff"/>
</g>
<polygon points="1933.43,755.10 1935.50,757.10 1940.10,757.10 1941.97,755.23 1946.57,755.23 1950.70,759.17 1950.70,761.67 1948.43,763.67 1946.33,763.77 1944.43,765.83 1944.43,767.70 1939.90,772.30 1935.70,772.30 1933.63,770.00 1933.63,765.83 1929.23,765.83 1927.10,763.57 1927.10,761.23" fill="none" stroke="#0000ff" stroke-opacity="0.7" stroke-width="1"/>
<path d="M1964.60 671.27L1972.40 679.07M1964.60 679.07L1972.40 671.27" stroke="#008000" stroke-width="1.5" fill="none"/>
<path d="M1877.73 832.87L1885.53 840.67M1877.73 840.67L1885.53 832.87" stroke="#ff0000" stroke-width="1.5" fill="none"/>
<rect x="1800.5" y="626.5" width="280.0" height="280.0" fill="none" stroke="#000" stroke-width="1.3"/>
<path d="M1836.57 626.5l0.6 -4.86M1895.83 626.5l0.6 -4.86M1955.50 626.5l0.6 -4.86M2015.17 626.5l0.6 -4.86M2074.50 626.5l0.6 -4.86M1817.37 906.5l-0.6 4.86M1876.03 906.5l-0.6 4.86M1935.03 906.5l-0.6 4.86M1994.03 906.5l-0.6 4.86M2053.03 906.5l-0.6 4.86M1800.5 647.50l-4.86 -0.2M1800.5 717.50l-4.86 -0.2M1800.5 787.50l-4.86 -0.2M1800.5 857.83l-4.86 -0.2M2080.5 669.50l4.86 0.2M2080.5 739.83l4.86 0.2M2080.5 809.83l4.86 0.2M2080.5 879.83l4.86 0.2" stroke="#000" stroke-width="1.1" fill="none"/>
<rect x="2101.5" y="626.5" width="14.0" height="280.0" fill="url(#cb)" stroke="#000" stroke-width="1.1"/>
<path d="M2115.5 647.70h4.86M2115.5 688.00h4.86M2115.5 728.30h4.86M2115.5 768.60h4.86M2115.5 808.90h4.86M2115.5 849.20h4.86M2115.5 889.50h4.86" stroke="#000" stroke-width="1.1" fill="none"/>
<rect x="652.5" y="38.5" width="1050.0" height="420.0" fill="#fff"/>
<polyline points="699.20,346.00 713.04,347.10 726.87,304.60 740.71,323.00 754.54,269.40 768.38,304.60 782.22,290.20 796.05,245.80 809.89,288.30 823.73,251.80 837.56,215.80 851.40,314.60 865.23,278.00 879.07,353.30 892.91,362.80 906.74,372.80 920.58,343.90 934.42,357.40 948.25,389.90 962.09,393.40 975.92,392.10 989.76,350.10 1003.60,358.00 1017.43,350.10 1031.27,302.40 1045.11,363.40 1058.94,358.20 1072.78,317.30 1086.61,318.90 1100.45,274.80 1114.29,266.10 1128.12,316.80 1141.96,310.00 1155.80,298.60 1169.63,276.70 1183.47,293.80 1197.30,364.20 1211.14,315.40 1224.98,321.70 1238.81,282.10 1252.65,329.50 1266.49,315.40 1280.32,312.70 1294.16,299.20 1307.99,374.20 1321.83,324.90 1335.67,277.50 1349.50,266.10 1363.34,274.80 1377.18,291.90 1391.01,276.70 1404.85,254.80 1418.68,274.80 1432.52,330.90 1446.36,304.10 1460.19,314.60 1474.03,358.20 1487.87,354.20 1501.70,319.50 1515.54,329.50 1529.37,275.30 1543.21,300.50 1557.05,334.40 1570.88,296.50 1584.72,367.70 1598.56,304.10 1612.39,333.60 1626.23,304.60 1640.06,317.30 1653.90,311.90" fill="none" stroke="#ff0000" stroke-opacity="0.5" stroke-width="2.08" stroke-linejoin="round"/>
<polyline points="699.20,349.30 713.04,328.40 726.87,343.10 740.71,314.60 754.54,293.80 768.38,314.60 782.22,331.10 796.05,311.90 809.89,258.50 823.73,246.90 837.56,273.40 851.40,236.10 865.23,258.50 879.07,249.60 892.91,263.40 906.74,306.50 920.58,303.50 934.42,314.10 948.25,276.20 962.09,262.60 975.92,272.10 989.76,314.60 1003.60,289.70 1017.43,264.50 1031.27,250.40 1045.11,306.80 1058.94,311.40 1072.78,305.90 1086.61,335.70 1100.45,334.90 1114.29,356.10 1128.12,379.10 1141.96,346.60 1155.80,344.70 1169.63,320.80 1183.47,285.10 1197.30,279.70 1211.14,291.10 1224.98,234.20 1238.81,262.60 1252.65,284.30 1266.49,320.80 1280.32,320.80 1294.16,292.40 1307.99,298.40 1321.83,335.20 1335.67,341.20 1349.50,350.60 1363.34,356.10 1377.18,352.80 1391.01,375.80 1404.85,378.50 1418.68,344.40 1432.52,341.70 1446.36,375.00 1460.19,323.60 1474.03,316.20 1487.87,342.50 1501.70,259.40 1515.54,293.80 1529.37,349.30 1543.21,373.10 1557.05,323.60 1570.88,323.60 1584.72,298.40 1598.56,311.40 1612.39,300.50 1626.23,299.40 1640.06,298.40 1653.90,292.40" fill="none" stroke="#008000" stroke-opacity="0.5" stroke-width="2.08" stroke-linejoin="round"/>
<path d="M699 180V256M713 167V242M727 57V132M741 162V238M755 246V322M768 238V314M782 208V284M796 212V288M810 260V336M824 285V360M838 278V354M851 298V373M865 337V412M879 282V358M893 312V388M907 334V410M921 305V381M934 332V408M948 340V416M962 328V403M976 344V420M990 282V358M1004 292V368M1017 287V363M1031 319V394M1045 300V375M1059 258V334M1073 271V347M1087 271V346M1100 302V377M1114 292V368M1128 338V414M1142 320V396M1156 331V407M1170 340V416M1183 310V386M1197 259V335M1211 274V350M1225 308V384M1239 315V391M1253 277V353M1266 258V334M1280 227V303M1294 253V329M1308 210V286M1322 224V300M1336 284V359M1350 289V365M1363 267V342M1377 262V338M1391 294V370M1405 322V398M1419 339V415M1433 336V412M1446 328V403M1460 362V438M1474 297V372M1488 278V354M1502 246V322M1516 273V349M1529 271V347M1543 259V335M1557 276V351M1571 286V362M1585 306V381M1599 308V384M1612 290V366M1626 280V356M1640 243V319M1654 268V344" stroke="#0000ff" stroke-width="2" fill="none"/>
<polyline points="699.20,217.90 713.04,204.50 726.87,94.60 740.71,200.00 754.54,284.30 768.38,275.70 782.22,246.40 796.05,250.40 809.89,298.10 823.73,322.50 837.56,315.60 851.40,335.50 865.23,374.50 879.07,319.60 892.91,350.40 906.74,372.40 920.58,342.90 934.42,370.40 948.25,378.40 962.09,365.40 975.92,382.30 989.76,319.60 1003.60,330.30 1017.43,324.90 1031.27,356.50 1045.11,337.40 1058.94,296.30 1072.78,308.90 1086.61,308.50 1100.45,339.40 1114.29,330.30 1128.12,376.40 1141.96,358.40 1155.80,369.30 1169.63,378.40 1183.47,348.30 1197.30,297.30 1211.14,311.90 1224.98,346.30 1238.81,353.30 1252.65,315.30 1266.49,296.30 1280.32,265.30 1294.16,291.30 1307.99,247.70 1321.83,261.80 1335.67,321.40 1349.50,326.80 1363.34,304.50 1377.18,299.70 1391.01,332.40 1404.85,360.40 1418.68,376.90 1432.52,373.90 1446.36,365.40 1460.19,400.30 1474.03,334.50 1487.87,316.20 1501.70,284.30 1515.54,310.80 1529.37,309.30 1543.21,297.30 1557.05,313.40 1570.88,324.40 1584.72,343.50 1598.56,346.30 1612.39,328.30 1626.23,318.40 1640.06,281.30 1653.90,305.90" fill="none" stroke="#0000ff" stroke-opacity="1" stroke-width="2.08" stroke-linejoin="round"/>
<line x1="652.5" y1="279.2" x2="1702.5" y2="279.2" stroke="#000" stroke-width="2.08" stroke-dasharray="2.08 3.43"/>
<line x1="652.5" y1="317.05" x2="1702.5" y2="317.05" stroke="#000" stroke-width="2.08" stroke-dasharray="2.08 3.43"/>
<line x1="652.5" y1="354.9" x2="1702.5" y2="354.9" stroke="#000" stroke-width="2.08" stroke-dasharray="2.08 3.43"/>
<rect x="652.5" y="38.5" width="1050.0" height="420.0" fill="none" stroke="#000" stroke-width="1.1"/>
<path d="M699.20 458.5v4.86M872.15 458.5v4.86M1045.11 458.5v4.86M1218.06 458.5v4.86M1391.01 458.5v4.86M1563.96 458.5v4.86M652.5 71.5h-4.86M652.5 132.9h-4.86M652.5 194.3h-4.86M652.5 255.7h-4.86M652.5 317.05h-4.86M652.5 378.5h-4.86M652.5 439.9h-4.86" stroke="#000" stroke-width="1.1" fill="none"/>
<rect x="1573.2" y="44.7" width="122.1" height="66.3" rx="2.8" fill="#fff" fill-opacity="0.8" stroke="#ccc" stroke-width="1.1"/>
<line x1="1578" y1="55.8" x2="1608" y2="55.8" stroke="#ff0000" stroke-opacity="0.5" stroke-width="2.08"/>
<line x1="1578" y1="76.8" x2="1608" y2="76.8" stroke="#008000" stroke-opacity="0.5" stroke-width="2.08"/>
<path d="M1578 97.8H1608M1592.9 90.9V104.9" stroke="#0000ff" stroke-width="2.08" fill="none"/>
<rect x="1268.5" y="486.5" width="434.0" height="420.0" fill="#fff"/>
<path d="M1286.80 906.5V885.90H1306.55V813.90H1326.29V745.10H1346.03V682.80H1365.78V631.30H1385.53V585.30H1405.27V549.10H1425.01V523.10H1444.76V508.30H1464.51V505.20H1484.25V511.30H1503.99V528.20H1523.74V554.20H1543.49V588.40H1563.23V627.20H1582.97V668.00H1602.72V713.90H1622.47V754.20H1642.21V801.20H1661.95V854.30H1681.70V906.5Z" fill="#0000ff" fill-opacity="0.5"/>
<line x1="1680.2" y1="486.5" x2="1680.2" y2="906.5" stroke="#ff0000" stroke-width="2.08"/>
<rect x="1381.2" y="853.5" width="206.6" height="46.0" rx="2.8" fill="#fff" fill-opacity="0.8" stroke="#ccc" stroke-width="1.1"/>
<rect x="1387.3" y="860.3" width="27.8" height="9.7" fill="#0000ff" fill-opacity="0.5"/>
<line x1="1386.2" y1="885.6" x2="1416.0" y2="885.6" stroke="#ff0000" stroke-width="2.08"/>
<rect x="1268.5" y="486.5" width="434.0" height="420.0" fill="none" stroke="#000" stroke-width="1.1"/>
<path d="M1302.36 906.5v4.86M1359.24 906.5v4.86M1416.12 906.5v4.86M1473.00 906.5v4.86M1529.88 906.5v4.86M1586.76 906.5v4.86M1643.64 906.5v4.86M1700.52 906.5v4.86M1268.5 545.50h-4.86M1268.5 628.05h-4.86M1268.5 710.60h-4.86M1268.5 793.15h-4.86M1268.5 875.70h-4.86" stroke="#000" stroke-width="1.1" fill="none"/>
<path d="M1268.5 900.55h-2.78M1268.5 894.01h-2.78M1268.5 888.49h-2.78M1268.5 883.70h-2.78M1268.5 879.48h-2.78M1268.5 850.85h-2.78M1268.5 836.31h-2.78M1268.5 826.00h-2.78M1268.5 818.00h-2.78M1268.5 811.46h-2.78M1268.5 805.94h-2.78M1268.5 801.15h-2.78M1268.5 796.93h-2.78M1268.5 768.30h-2.78M1268.5 753.76h-2.78M1268.5 743.45h-2.78M1268.5 735.45h-2.78M1268.5 728.91h-2.78M1268.5 723.39h-2.78M1268.5 718.60h-2.78M1268.5 714.38h-2.78M1268.5 685.75h-2.78M1268.5 671.21h-2.78M1268.5 660.90h-2.78M1268.5 652.90h-2.78M1268.5 646.36h-2.78M1268.5 640.84h-2.78M1268.5 636.05h-2.78M1268.5 631.83h-2.78M1268.5 603.20h-2.78M1268.5 588.66h-2.78M1268.5 578.35h-2.78M1268.5 570.35h-2.78M1268.5 563.81h-2.78M1268.5 558.29h-2.78M1268.5 553.50h-2.78M1268.5 549.28h-2.78M1268.5 520.65h-2.78M1268.5 506.11h-2.78M1268.5 495.80h-2.78M1268.5 487.80h-2.78" stroke="#000" stroke-width="0.83" fill="none"/>
<g opacity="0.999">
<text x="397.80" y="23.90" font-size="17.40" textLength="1571.00" lengthAdjust="spacingAndGlyphs" fill="#000">obs_id: 1420480832 cand_id: 803 cent_freq: 200 MHz coords: (7h38m05.09592449s, -31d38m04.0421599s) (114.521, -31.6345) cube_rms: 0.122686 Jy num_cands / num_islands: 5 / 1189</text>
<text x="31.95" y="74.90" font-size="14.50" textLength="48.45" lengthAdjust="spacingAndGlyphs" fill="#000">-31°15'</text>
<text x="60.09" y="179.90" font-size="14.50" textLength="20.31" lengthAdjust="spacingAndGlyphs" fill="#000">30'</text>
<text x="60.09" y="284.90" font-size="14.50" textLength="20.31" lengthAdjust="spacingAndGlyphs" fill="#000">45'</text>
<text x="32.19" y="390.40" font-size="14.50" textLength="48.21" lengthAdjust="spacingAndGlyphs" fill="#000">-32°00'</text>
<text x="8.36" y="250.00" font-size="14.50" textLength="26.88" lengthAdjust="spacingAndGlyphs" fill="#000" transform="rotate(-90 21.80 250.00)">Dec</text>
<text x="571.20" y="77.10" font-size="14.50" textLength="21.45" lengthAdjust="spacingAndGlyphs" fill="#000">0.8</text>
<text x="571.20" y="138.50" font-size="14.50" textLength="21.45" lengthAdjust="spacingAndGlyphs" fill="#000">0.6</text>
<text x="571.20" y="199.90" font-size="14.50" textLength="21.33" lengthAdjust="spacingAndGlyphs" fill="#000">0.4</text>
<text x="571.20" y="261.30" font-size="14.50" textLength="21.33" lengthAdjust="spacingAndGlyphs" fill="#000">0.2</text>
<text x="571.20" y="322.65" font-size="14.50" textLength="21.33" lengthAdjust="spacingAndGlyphs" fill="#000">0.0</text>
<text x="571.20" y="384.10" font-size="14.50" textLength="32.66" lengthAdjust="spacingAndGlyphs" fill="#000">−0.2</text>
<text x="571.20" y="445.50" font-size="14.50" textLength="32.66" lengthAdjust="spacingAndGlyphs" fill="#000">−0.4</text>
<text x="555.20" y="249.20" font-size="14.50" textLength="129.00" lengthAdjust="spacingAndGlyphs" fill="#000" transform="rotate(-90 619.70 249.20)">Transient cube (Jy)</text>
<text x="31.95" y="522.90" font-size="14.50" textLength="48.45" lengthAdjust="spacingAndGlyphs" fill="#000">-31°15'</text>
<text x="60.09" y="627.90" font-size="14.50" textLength="20.31" lengthAdjust="spacingAndGlyphs" fill="#000">30'</text>
<text x="60.09" y="732.90" font-size="14.50" textLength="20.31" lengthAdjust="spacingAndGlyphs" fill="#000">45'</text>
<text x="32.19" y="838.40" font-size="14.50" textLength="48.21" lengthAdjust="spacingAndGlyphs" fill="#000">-32°00'</text>
<text x="8.36" y="698.00" font-size="14.50" textLength="26.88" lengthAdjust="spacingAndGlyphs" fill="#000" transform="rotate(-90 21.80 698.00)">Dec</text>
<text x="96.69" y="926.10" font-size="14.50" textLength="8.75" lengthAdjust="spacingAndGlyphs" fill="#000">7</text>
<text x="105.74" y="920.80" font-size="10.15" textLength="6.25" lengthAdjust="spacingAndGlyphs" fill="#000">h</text>
<text x="112.16" y="926.10" font-size="14.50" textLength="17.50" lengthAdjust="spacingAndGlyphs" fill="#000">40</text>
<text x="129.96" y="920.80" font-size="10.15" textLength="9.50" lengthAdjust="spacingAndGlyphs" fill="#000">m</text>
<text x="192.36" y="926.10" font-size="14.50" textLength="17.62" lengthAdjust="spacingAndGlyphs" fill="#000">39</text>
<text x="210.29" y="920.80" font-size="10.15" textLength="9.50" lengthAdjust="spacingAndGlyphs" fill="#000">m</text>
<text x="280.86" y="926.10" font-size="14.50" textLength="17.62" lengthAdjust="spacingAndGlyphs" fill="#000">38</text>
<text x="298.79" y="920.80" font-size="10.15" textLength="9.50" lengthAdjust="spacingAndGlyphs" fill="#000">m</text>
<text x="369.43" y="926.10" font-size="14.50" textLength="17.50" lengthAdjust="spacingAndGlyphs" fill="#000">37</text>
<text x="387.23" y="920.80" font-size="10.15" textLength="9.50" lengthAdjust="spacingAndGlyphs" fill="#000">m</text>
<text x="457.86" y="926.10" font-size="14.50" textLength="17.62" lengthAdjust="spacingAndGlyphs" fill="#000">36</text>
<text x="475.79" y="920.80" font-size="10.15" textLength="9.50" lengthAdjust="spacingAndGlyphs" fill="#000">m</text>
<text x="292.69" y="947.60" font-size="14.50" textLength="18.62" lengthAdjust="spacingAndGlyphs" fill="#000">RA</text>
<text x="571.20" y="503.70" font-size="14.50" textLength="29.98" lengthAdjust="spacingAndGlyphs" fill="#000">0.10</text>
<text x="571.20" y="573.30" font-size="14.50" textLength="29.98" lengthAdjust="spacingAndGlyphs" fill="#000">0.08</text>
<text x="571.20" y="642.90" font-size="14.50" textLength="29.98" lengthAdjust="spacingAndGlyphs" fill="#000">0.06</text>
<text x="571.20" y="712.50" font-size="14.50" textLength="29.86" lengthAdjust="spacingAndGlyphs" fill="#000">0.04</text>
<text x="571.20" y="782.10" font-size="14.50" textLength="29.86" lengthAdjust="spacingAndGlyphs" fill="#000">0.02</text>
<text x="571.20" y="851.70" font-size="14.50" textLength="29.86" lengthAdjust="spacingAndGlyphs" fill="#000">0.00</text>
<text x="578.98" y="697.20" font-size="14.50" textLength="76.25" lengthAdjust="spacingAndGlyphs" fill="#000" transform="rotate(-90 617.10 697.20)">GLEAM (Jy)</text>
<text x="655.59" y="926.10" font-size="14.50" textLength="8.75" lengthAdjust="spacingAndGlyphs" fill="#000">7</text>
<text x="664.64" y="920.80" font-size="10.15" textLength="6.25" lengthAdjust="spacingAndGlyphs" fill="#000">h</text>
<text x="671.06" y="926.10" font-size="14.50" textLength="17.50" lengthAdjust="spacingAndGlyphs" fill="#000">40</text>
<text x="688.86" y="920.80" font-size="10.15" textLength="9.50" lengthAdjust="spacingAndGlyphs" fill="#000">m</text>
<text x="751.26" y="926.10" font-size="14.50" textLength="17.62" lengthAdjust="spacingAndGlyphs" fill="#000">39</text>
<text x="769.19" y="920.80" font-size="10.15" textLength="9.50" lengthAdjust="spacingAndGlyphs" fill="#000">m</text>
<text x="839.76" y="926.10" font-size="14.50" textLength="17.62" lengthAdjust="spacingAndGlyphs" fill="#000">38</text>
<text x="857.69" y="920.80" font-size="10.15" textLength="9.50" lengthAdjust="spacingAndGlyphs" fill="#000">m</text>
<text x="928.32" y="926.10" font-size="14.50" textLength="17.50" lengthAdjust="spacingAndGlyphs" fill="#000">37</text>
<text x="946.12" y="920.80" font-size="10.15" textLength="9.50" lengthAdjust="spacingAndGlyphs" fill="#000">m</text>
<text x="1016.76" y="926.10" font-size="14.50" textLength="17.62" lengthAdjust="spacingAndGlyphs" fill="#000">36</text>
<text x="1034.69" y="920.80" font-size="10.15" textLength="9.50" lengthAdjust="spacingAndGlyphs" fill="#000">m</text>
<text x="852.69" y="947.60" font-size="14.50" textLength="18.62" lengthAdjust="spacingAndGlyphs" fill="#000">RA</text>
<text x="1131.20" y="529.70" font-size="14.50" textLength="29.98" lengthAdjust="spacingAndGlyphs" fill="#000">0.08</text>
<text x="1131.20" y="595.60" font-size="14.50" textLength="29.98" lengthAdjust="spacingAndGlyphs" fill="#000">0.06</text>
<text x="1131.20" y="661.40" font-size="14.50" textLength="29.86" lengthAdjust="spacingAndGlyphs" fill="#000">0.04</text>
<text x="1131.20" y="727.20" font-size="14.50" textLength="29.86" lengthAdjust="spacingAndGlyphs" fill="#000">0.02</text>
<text x="1131.20" y="793.00" font-size="14.50" textLength="29.86" lengthAdjust="spacingAndGlyphs" fill="#000">0.00</text>
<text x="1131.20" y="858.80" font-size="14.50" textLength="41.19" lengthAdjust="spacingAndGlyphs" fill="#000">−0.02</text>
<text x="1156.44" y="697.20" font-size="14.50" textLength="64.12" lengthAdjust="spacingAndGlyphs" fill="#000" transform="rotate(-90 1188.50 697.20)">Deep (Jy)</text>
<text x="1739.95" y="64.40" font-size="14.50" textLength="48.45" lengthAdjust="spacingAndGlyphs" fill="#000">-31°15'</text>
<text x="1768.09" y="134.40" font-size="14.50" textLength="20.31" lengthAdjust="spacingAndGlyphs" fill="#000">30'</text>
<text x="1768.09" y="204.40" font-size="14.50" textLength="20.31" lengthAdjust="spacingAndGlyphs" fill="#000">45'</text>
<text x="1740.19" y="274.73" font-size="14.50" textLength="48.21" lengthAdjust="spacingAndGlyphs" fill="#000">-32°00'</text>
<text x="1715.96" y="180.00" font-size="14.50" textLength="26.88" lengthAdjust="spacingAndGlyphs" fill="#000" transform="rotate(-90 1729.40 180.00)">Dec</text>
<text x="2125.20" y="59.40" font-size="14.50" textLength="38.51" lengthAdjust="spacingAndGlyphs" fill="#000">0.080</text>
<text x="2125.20" y="95.50" font-size="14.50" textLength="38.39" lengthAdjust="spacingAndGlyphs" fill="#000">0.075</text>
<text x="2125.20" y="131.60" font-size="14.50" textLength="38.39" lengthAdjust="spacingAndGlyphs" fill="#000">0.070</text>
<text x="2125.20" y="167.70" font-size="14.50" textLength="38.51" lengthAdjust="spacingAndGlyphs" fill="#000">0.065</text>
<text x="2125.20" y="203.80" font-size="14.50" textLength="38.51" lengthAdjust="spacingAndGlyphs" fill="#000">0.060</text>
<text x="2125.20" y="239.90" font-size="14.50" textLength="38.39" lengthAdjust="spacingAndGlyphs" fill="#000">0.055</text>
<text x="2125.20" y="276.00" font-size="14.50" textLength="38.39" lengthAdjust="spacingAndGlyphs" fill="#000">0.050</text>
<text x="2125.20" y="312.10" font-size="14.50" textLength="38.39" lengthAdjust="spacingAndGlyphs" fill="#000">0.045</text>
<text x="2104.66" y="179.20" font-size="14.50" textLength="149.88" lengthAdjust="spacingAndGlyphs" fill="#000" transform="rotate(-90 2179.60 179.20)">rms = 0.0819 (0.608)</text>
<text x="1739.95" y="358.40" font-size="14.50" textLength="48.45" lengthAdjust="spacingAndGlyphs" fill="#000">-31°15'</text>
<text x="1768.09" y="428.40" font-size="14.50" textLength="20.31" lengthAdjust="spacingAndGlyphs" fill="#000">30'</text>
<text x="1768.09" y="498.40" font-size="14.50" textLength="20.31" lengthAdjust="spacingAndGlyphs" fill="#000">45'</text>
<text x="1740.19" y="568.73" font-size="14.50" textLength="48.21" lengthAdjust="spacingAndGlyphs" fill="#000">-32°00'</text>
<text x="1715.96" y="474.00" font-size="14.50" textLength="26.88" lengthAdjust="spacingAndGlyphs" fill="#000" transform="rotate(-90 1729.40 474.00)">Dec</text>
<text x="2125.20" y="387.10" font-size="14.50" textLength="8.53" lengthAdjust="spacingAndGlyphs" fill="#000">5</text>
<text x="2125.20" y="448.40" font-size="14.50" textLength="8.53" lengthAdjust="spacingAndGlyphs" fill="#000">4</text>
<text x="2125.20" y="509.70" font-size="14.50" textLength="8.53" lengthAdjust="spacingAndGlyphs" fill="#000">3</text>
<text x="2125.20" y="571.00" font-size="14.50" textLength="8.53" lengthAdjust="spacingAndGlyphs" fill="#000">2</text>
<text x="2077.88" y="473.20" font-size="14.50" textLength="142.25" lengthAdjust="spacingAndGlyphs" fill="#000" transform="rotate(-90 2149.00 473.20)">spike = 6.69 (0.893)</text>
<text x="1739.95" y="652.40" font-size="14.50" textLength="48.45" lengthAdjust="spacingAndGlyphs" fill="#000">-31°15'</text>
<text x="1768.09" y="722.40" font-size="14.50" textLength="20.31" lengthAdjust="spacingAndGlyphs" fill="#000">30'</text>
<text x="1768.09" y="792.40" font-size="14.50" textLength="20.31" lengthAdjust="spacingAndGlyphs" fill="#000">45'</text>
<text x="1740.19" y="862.73" font-size="14.50" textLength="48.21" lengthAdjust="spacingAndGlyphs" fill="#000">-32°00'</text>
<text x="1715.96" y="768.00" font-size="14.50" textLength="26.88" lengthAdjust="spacingAndGlyphs" fill="#000" transform="rotate(-90 1729.40 768.00)">Dec</text>
<text x="1796.25" y="926.10" font-size="14.50" textLength="8.75" lengthAdjust="spacingAndGlyphs" fill="#000">7</text>
<text x="1805.30" y="920.80" font-size="10.15" textLength="6.25" lengthAdjust="spacingAndGlyphs" fill="#000">h</text>
<text x="1811.73" y="926.10" font-size="14.50" textLength="17.50" lengthAdjust="spacingAndGlyphs" fill="#000">40</text>
<text x="1829.53" y="920.80" font-size="10.15" textLength="9.50" lengthAdjust="spacingAndGlyphs" fill="#000">m</text>
<text x="1862.60" y="926.10" font-size="14.50" textLength="17.62" lengthAdjust="spacingAndGlyphs" fill="#000">39</text>
<text x="1880.52" y="920.80" font-size="10.15" textLength="9.50" lengthAdjust="spacingAndGlyphs" fill="#000">m</text>
<text x="1921.60" y="926.10" font-size="14.50" textLength="17.62" lengthAdjust="spacingAndGlyphs" fill="#000">38</text>
<text x="1939.52" y="920.80" font-size="10.15" textLength="9.50" lengthAdjust="spacingAndGlyphs" fill="#000">m</text>
<text x="1980.66" y="926.10" font-size="14.50" textLength="17.50" lengthAdjust="spacingAndGlyphs" fill="#000">37</text>
<text x="1998.46" y="920.80" font-size="10.15" textLength="9.50" lengthAdjust="spacingAndGlyphs" fill="#000">m</text>
<text x="2039.60" y="926.10" font-size="14.50" textLength="17.62" lengthAdjust="spacingAndGlyphs" fill="#000">36</text>
<text x="2057.52" y="920.80" font-size="10.15" textLength="9.50" lengthAdjust="spacingAndGlyphs" fill="#000">m</text>
<text x="1930.69" y="947.60" font-size="14.50" textLength="18.62" lengthAdjust="spacingAndGlyphs" fill="#000">RA</text>
<text x="2125.20" y="652.80" font-size="14.50" textLength="29.86" lengthAdjust="spacingAndGlyphs" fill="#000">0.40</text>
<text x="2125.20" y="693.10" font-size="14.50" textLength="29.86" lengthAdjust="spacingAndGlyphs" fill="#000">0.35</text>
<text x="2125.20" y="733.40" font-size="14.50" textLength="29.86" lengthAdjust="spacingAndGlyphs" fill="#000">0.30</text>
<text x="2125.20" y="773.70" font-size="14.50" textLength="29.86" lengthAdjust="spacingAndGlyphs" fill="#000">0.25</text>
<text x="2125.20" y="814.00" font-size="14.50" textLength="29.86" lengthAdjust="spacingAndGlyphs" fill="#000">0.20</text>
<text x="2125.20" y="854.30" font-size="14.50" textLength="29.98" lengthAdjust="spacingAndGlyphs" fill="#000">0.15</text>
<text x="2125.20" y="894.60" font-size="14.50" textLength="29.98" lengthAdjust="spacingAndGlyphs" fill="#000">0.10</text>
<text x="2100.16" y="767.20" font-size="14.50" font-weight="bold" textLength="141.88" lengthAdjust="spacingAndGlyphs" fill="#000" transform="rotate(-90 2171.10 767.20)">tcg = 0.433 (1.03)</text>
<text x="694.83" y="478.60" font-size="14.50" textLength="8.75" lengthAdjust="spacingAndGlyphs" fill="#000">0</text>
<text x="863.40" y="478.60" font-size="14.50" textLength="17.50" lengthAdjust="spacingAndGlyphs" fill="#000">50</text>
<text x="1031.92" y="478.60" font-size="14.50" textLength="26.38" lengthAdjust="spacingAndGlyphs" fill="#000">100</text>
<text x="1204.87" y="478.60" font-size="14.50" textLength="26.38" lengthAdjust="spacingAndGlyphs" fill="#000">150</text>
<text x="1377.89" y="478.60" font-size="14.50" textLength="26.25" lengthAdjust="spacingAndGlyphs" fill="#000">200</text>
<text x="1550.84" y="478.60" font-size="14.50" textLength="26.25" lengthAdjust="spacingAndGlyphs" fill="#000">250</text>
<text x="1148.81" y="499.00" font-size="14.50" textLength="56.38" lengthAdjust="spacingAndGlyphs" fill="#000">Time (s)</text>
<text x="1618.50" y="62.10" font-size="14.50" textLength="59.62" lengthAdjust="spacingAndGlyphs" fill="#000">Known 1</text>
<text x="1618.50" y="82.40" font-size="14.50" textLength="59.50" lengthAdjust="spacingAndGlyphs" fill="#000">Known 2</text>
<text x="1618.50" y="102.70" font-size="14.50" textLength="71.38" lengthAdjust="spacingAndGlyphs" fill="#000">Candidate</text>
<text x="1426.20" y="870.50" font-size="14.50" textLength="156.88" lengthAdjust="spacingAndGlyphs" fill="#000">Transient cutout pixels</text>
<text x="1426.20" y="890.90" font-size="14.50" textLength="109.88" lengthAdjust="spacingAndGlyphs" fill="#000">Candidate peak</text>
<text x="1285.97" y="927.00" font-size="14.50" textLength="32.78" lengthAdjust="spacingAndGlyphs" fill="#000">−0.6</text>
<text x="1342.91" y="927.00" font-size="14.50" textLength="32.66" lengthAdjust="spacingAndGlyphs" fill="#000">−0.4</text>
<text x="1399.79" y="927.00" font-size="14.50" textLength="32.66" lengthAdjust="spacingAndGlyphs" fill="#000">−0.2</text>
<text x="1462.34" y="927.00" font-size="14.50" textLength="21.33" lengthAdjust="spacingAndGlyphs" fill="#000">0.0</text>
<text x="1519.22" y="927.00" font-size="14.50" textLength="21.33" lengthAdjust="spacingAndGlyphs" fill="#000">0.2</text>
<text x="1576.10" y="927.00" font-size="14.50" textLength="21.33" lengthAdjust="spacingAndGlyphs" fill="#000">0.4</text>
<text x="1632.91" y="927.00" font-size="14.50" textLength="21.45" lengthAdjust="spacingAndGlyphs" fill="#000">0.6</text>
<text x="1689.80" y="927.00" font-size="14.50" textLength="21.45" lengthAdjust="spacingAndGlyphs" fill="#000">0.8</text>
<text x="1252.47" y="546.50" font-size="10.15" textLength="6.12" lengthAdjust="spacingAndGlyphs" fill="#000">0</text>
<text x="1234.25" y="551.50" font-size="14.50" textLength="17.62" lengthAdjust="spacingAndGlyphs" fill="#000">10</text>
<text x="1244.35" y="629.05" font-size="10.15" textLength="14.25" lengthAdjust="spacingAndGlyphs" fill="#000">−1</text>
<text x="1226.12" y="634.05" font-size="14.50" textLength="17.62" lengthAdjust="spacingAndGlyphs" fill="#000">10</text>
<text x="1244.22" y="711.60" font-size="10.15" textLength="14.38" lengthAdjust="spacingAndGlyphs" fill="#000">−2</text>
<text x="1226.00" y="716.60" font-size="14.50" textLength="17.62" lengthAdjust="spacingAndGlyphs" fill="#000">10</text>
<text x="1244.35" y="794.15" font-size="10.15" textLength="14.25" lengthAdjust="spacingAndGlyphs" fill="#000">−3</text>
<text x="1226.12" y="799.15" font-size="14.50" textLength="17.62" lengthAdjust="spacingAndGlyphs" fill="#000">10</text>
<text x="1244.35" y="876.70" font-size="10.15" textLength="14.25" lengthAdjust="spacingAndGlyphs" fill="#000">−4</text>
<text x="1226.12" y="881.70" font-size="14.50" textLength="17.62" lengthAdjust="spacingAndGlyphs" fill="#000">10</text>
<text x="1456.81" y="945.30" font-size="14.50" textLength="56.38" lengthAdjust="spacingAndGlyphs" fill="#000">Flux (Jy)</text>
<text x="1095.11" y="697.50" font-size="14.50" textLength="239.38" lengthAdjust="spacingAndGlyphs" fill="#000" transform="rotate(-90 1214.80 697.50)">Number density of pixels in cutout</text>
</g>
</svg>
</body></html>
